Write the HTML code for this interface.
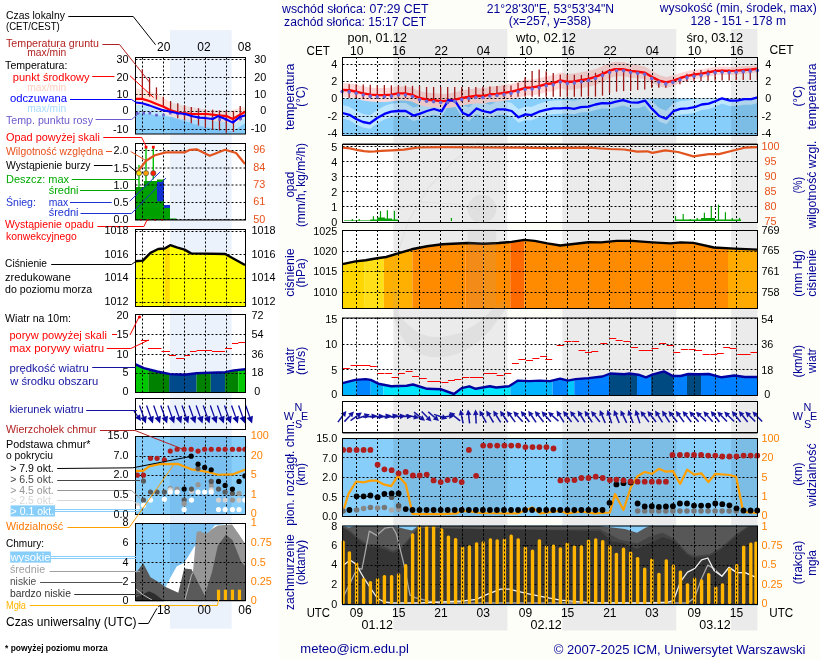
<!DOCTYPE html>
<html><head><meta charset="utf-8"><style>
html,body{margin:0;padding:0;background:#fff;overflow:hidden}
svg{display:block;-webkit-font-smoothing:antialiased;will-change:transform}
text{font-family:"Liberation Sans", sans-serif}
</style></head><body>
<svg width="820" height="660" viewBox="0 0 820 660">
<rect x="0" y="0" width="820" height="660" fill="#ffffff"/>
<rect x="279.4" y="0" width="541" height="660" fill="#fefef9"/>
<rect x="393.4" y="29" width="114" height="601.5" fill="#ebebeb"/>
<rect x="562.3" y="29" width="114" height="601.5" fill="#ebebeb"/>
<rect x="731.1" y="29" width="26.4" height="601.5" fill="#ebebeb"/>
<rect x="170" y="30.2" width="61.6" height="598.5" fill="#ebf2fc"/>
<rect x="342.5" y="57" width="415" height="78" fill="#ffffff"/>
<rect x="342.5" y="98.5" width="415" height="36.5" fill="#87cefa"/>
<polygon points="342.5,105 349.4,106.8 356.2,111 363,114 369.9,115.3 377.6,109.8 384.4,105.9 391.2,103.7 398,103 405.7,103 413.4,107.6 419.4,105.9 427,103 434,101 441.6,103.3 448.4,98.5 455.2,98.5 462.9,105 468.9,107.6 476.6,100.5 482.7,103 490.4,104.7 497.2,101.3 504.9,101.3 511.7,103 518.5,109.3 525.4,106.4 531.3,107.1 539,103.7 546.7,101.6 553.5,100.4 560.4,100.3 567.2,99.9 574,100.8 580.9,99.1 588.5,98.6 595.4,98.5 602.2,98.5 609.9,98.5 615,98.5 623,98.5 630.9,98.5 638,98.5 645,98.5 652.1,100.9 659.2,108 666.3,110.7 673.4,103.2 680.4,100.9 687.5,100.4 694.6,99.2 701.6,98.5 708.7,98.5 715.8,98.5 722,98.5 730,98.5 737,98.5 744.1,98.5 751.2,98.5 757.5,98.5 757.5,102.9 751.2,104.7 744.1,104.7 737,106.1 730,106.1 722,103.8 715.8,106.5 708.7,109.1 701.6,110 694.6,112.7 687.5,113.9 680.4,114.4 673.4,116.7 666.3,124.2 659.2,121.5 652.1,114.4 645,106.1 638,108.2 630.9,107.9 623,105.6 615,107.4 609.9,108.8 602.2,108.6 595.4,110 588.5,112.1 580.9,112.6 574,114.3 567.2,113.4 560.4,113.8 553.5,113.9 546.7,115.1 539,117.2 531.3,120.6 525.4,119.9 518.5,122.8 511.7,116.5 504.9,114.8 497.2,114.8 490.4,118.2 482.7,116.5 476.6,114 468.9,121.1 462.9,118.5 455.2,106.6 448.4,105.7 441.6,116.8 434,114.5 427,116.5 419.4,119.4 413.4,121.1 405.7,116.5 398,116.5 391.2,117.2 384.4,119.4 377.6,123.3 369.9,128.8 363,127.5 356.2,124.5 349.4,120.3 342.5,118.5" fill="#bfe6ff"/>
<polygon points="342.5,83 349.4,83.3 356.2,84.7 363,86.4 370.7,87.6 377.6,88.1 384.4,88.1 391.2,87.6 398,86.4 404.9,86.4 411.7,87.6 419.4,91 427,92.63 434,93.06 441.6,93.88 448.4,93.52 455.2,92.35 462,90.58 469.8,89.3 476.6,88.23 483.5,88.36 490.4,86.6 497.2,86.13 504,85.06 511.7,83.78 518.5,82.02 525.4,79.8 532.2,79.4 539,78.2 546.7,76 553.5,75.2 560.4,72.3 567.2,74 574,73.5 580.9,72.3 588.5,70.9 595.4,68.9 602.2,66.19 609.9,63.1 615,61.8 623,62.02 630.9,64.14 638,65.32 645,66.5 652.1,71.16 659.2,74.88 666.3,76.89 673.4,75.3 680.4,72.91 687.5,71.03 694.6,69.84 701.6,69.13 708.7,67.95 715.8,66.68 722.9,66.5 729.9,66.92 737,66.75 744.1,66.27 751.2,65.9 757.5,65.3 757.5,72.3 751.2,73.1 744.1,73.73 737,74.45 729.9,74.88 722.9,74.7 715.8,75.12 708.7,76.65 701.6,78.07 694.6,79.16 687.5,80.78 680.4,83.09 673.4,85.9 666.3,87.91 659.2,86.32 652.1,83.04 645,78.9 638,78.28 630.9,77.66 623,76.18 615,76.6 609.9,78.3 602.2,82.01 595.4,84.9 588.5,86.9 580.9,88.3 574,89.5 567.2,90 560.4,88.3 553.5,91.2 546.7,92 539,94.2 532.2,95.4 525.4,95.8 518.5,97.98 511.7,99.62 504,100.74 497.2,101.67 490.4,102 483.5,103.64 476.6,103.37 469.8,104.3 462,105.42 455.2,107.05 448.4,108.08 441.6,108.32 434,107.34 427,106.77 419.4,105 411.7,101.6 404.9,100.4 398,100.4 391.2,101.6 384.4,102.1 377.6,102.1 370.7,101.6 363,100.4 356.2,98.7 349.4,97.3 342.5,97" fill="#ffd9d9"/>
<rect x="393.4" y="57" width="114" height="78" fill="#000" fill-opacity="0.078"/>
<rect x="562.3" y="57" width="114" height="78" fill="#000" fill-opacity="0.078"/>
<rect x="731.1" y="57" width="26.4" height="78" fill="#000" fill-opacity="0.078"/>
<line x1="356.5" y1="57" x2="356.5" y2="135" stroke="#000" stroke-width="1" stroke-dasharray="2,2"/>
<line x1="377.5" y1="57" x2="377.5" y2="135" stroke="#000" stroke-width="1" stroke-dasharray="2,2"/>
<line x1="398.5" y1="57" x2="398.5" y2="135" stroke="#000" stroke-width="1" stroke-dasharray="2,2"/>
<line x1="419.5" y1="57" x2="419.5" y2="135" stroke="#000" stroke-width="1" stroke-dasharray="2,2"/>
<line x1="440.5" y1="57" x2="440.5" y2="135" stroke="#000" stroke-width="1" stroke-dasharray="2,2"/>
<line x1="462.5" y1="57" x2="462.5" y2="135" stroke="#000" stroke-width="1" stroke-dasharray="2,2"/>
<line x1="483.5" y1="57" x2="483.5" y2="135" stroke="#000" stroke-width="1" stroke-dasharray="2,2"/>
<line x1="504.5" y1="57" x2="504.5" y2="135" stroke="#000" stroke-width="1" stroke-dasharray="2,2"/>
<line x1="525.5" y1="57" x2="525.5" y2="135" stroke="#000" stroke-width="1" stroke-dasharray="2,2"/>
<line x1="546.5" y1="57" x2="546.5" y2="135" stroke="#000" stroke-width="1" stroke-dasharray="2,2"/>
<line x1="567.5" y1="57" x2="567.5" y2="135" stroke="#000" stroke-width="1" stroke-dasharray="2,2"/>
<line x1="588.5" y1="57" x2="588.5" y2="135" stroke="#000" stroke-width="1" stroke-dasharray="2,2"/>
<line x1="609.5" y1="57" x2="609.5" y2="135" stroke="#000" stroke-width="1" stroke-dasharray="2,2"/>
<line x1="630.5" y1="57" x2="630.5" y2="135" stroke="#000" stroke-width="1" stroke-dasharray="2,2"/>
<line x1="652.5" y1="57" x2="652.5" y2="135" stroke="#000" stroke-width="1" stroke-dasharray="2,2"/>
<line x1="673.5" y1="57" x2="673.5" y2="135" stroke="#000" stroke-width="1" stroke-dasharray="2,2"/>
<line x1="694.5" y1="57" x2="694.5" y2="135" stroke="#000" stroke-width="1" stroke-dasharray="2,2"/>
<line x1="715.5" y1="57" x2="715.5" y2="135" stroke="#000" stroke-width="1" stroke-dasharray="2,2"/>
<line x1="736.5" y1="57" x2="736.5" y2="135" stroke="#000" stroke-width="1" stroke-dasharray="2,2"/>
<line x1="342.5" y1="64.5" x2="757.5" y2="64.5" stroke="#000" stroke-width="1" stroke-dasharray="2,2"/>
<line x1="342.5" y1="81.5" x2="757.5" y2="81.5" stroke="#000" stroke-width="1" stroke-dasharray="2,2"/>
<line x1="342.5" y1="98.5" x2="757.5" y2="98.5" stroke="#000" stroke-width="1" stroke-dasharray="2,2"/>
<line x1="342.5" y1="116.5" x2="757.5" y2="116.5" stroke="#000" stroke-width="1" stroke-dasharray="2,2"/>
<line x1="342.5" y1="133.5" x2="757.5" y2="133.5" stroke="#000" stroke-width="1" stroke-dasharray="2,2"/>
<line x1="349.16" y1="84.18" x2="349.16" y2="98" stroke="#a01818" stroke-width="1.3"/>
<line x1="356.2" y1="84.36" x2="356.2" y2="98" stroke="#a01818" stroke-width="1.3"/>
<line x1="363.24" y1="84.54" x2="363.24" y2="98" stroke="#a01818" stroke-width="1.3"/>
<line x1="370.27" y1="84.72" x2="370.27" y2="98" stroke="#a01818" stroke-width="1.3"/>
<line x1="377.31" y1="84.91" x2="377.31" y2="98" stroke="#a01818" stroke-width="1.3"/>
<line x1="384.35" y1="85.09" x2="384.35" y2="98" stroke="#a01818" stroke-width="1.3"/>
<line x1="391.38" y1="85.27" x2="391.38" y2="98" stroke="#a01818" stroke-width="1.3"/>
<line x1="398.42" y1="85.45" x2="398.42" y2="98" stroke="#a01818" stroke-width="1.3"/>
<line x1="405.46" y1="85.63" x2="405.46" y2="98" stroke="#a01818" stroke-width="1.3"/>
<line x1="412.5" y1="85.81" x2="412.5" y2="98" stroke="#a01818" stroke-width="1.3"/>
<line x1="419.53" y1="85.99" x2="419.53" y2="98" stroke="#a01818" stroke-width="1.3"/>
<line x1="426.57" y1="86.94" x2="426.57" y2="102.13" stroke="#a01818" stroke-width="1.3"/>
<line x1="433.61" y1="87" x2="433.61" y2="102.34" stroke="#a01818" stroke-width="1.3"/>
<line x1="440.64" y1="87" x2="440.64" y2="102.27" stroke="#a01818" stroke-width="1.3"/>
<line x1="447.68" y1="87" x2="447.68" y2="102.21" stroke="#a01818" stroke-width="1.3"/>
<line x1="454.72" y1="87" x2="454.72" y2="102.14" stroke="#a01818" stroke-width="1.3"/>
<line x1="461.75" y1="87" x2="461.75" y2="102.08" stroke="#a01818" stroke-width="1.3"/>
<line x1="468.79" y1="87" x2="468.79" y2="102.01" stroke="#a01818" stroke-width="1.3"/>
<line x1="475.83" y1="87" x2="475.83" y2="97.84" stroke="#a01818" stroke-width="1.3"/>
<line x1="482.87" y1="86.72" x2="482.87" y2="96.98" stroke="#a01818" stroke-width="1.3"/>
<line x1="489.9" y1="86.39" x2="489.9" y2="96.96" stroke="#a01818" stroke-width="1.3"/>
<line x1="496.94" y1="86.06" x2="496.94" y2="96.94" stroke="#a01818" stroke-width="1.3"/>
<line x1="503.98" y1="85.73" x2="503.98" y2="96.91" stroke="#a01818" stroke-width="1.3"/>
<line x1="511.01" y1="85.39" x2="511.01" y2="96.89" stroke="#a01818" stroke-width="1.3"/>
<line x1="518.05" y1="82.74" x2="518.05" y2="96.87" stroke="#a01818" stroke-width="1.3"/>
<line x1="525.09" y1="77.34" x2="525.09" y2="96.84" stroke="#a01818" stroke-width="1.3"/>
<line x1="532.12" y1="70.97" x2="532.12" y2="96.82" stroke="#a01818" stroke-width="1.3"/>
<line x1="539.16" y1="69.54" x2="539.16" y2="96.8" stroke="#a01818" stroke-width="1.3"/>
<line x1="546.2" y1="71.25" x2="546.2" y2="96.77" stroke="#a01818" stroke-width="1.3"/>
<line x1="553.24" y1="72.96" x2="553.24" y2="96.75" stroke="#a01818" stroke-width="1.3"/>
<line x1="560.27" y1="74.6" x2="560.27" y2="96.73" stroke="#a01818" stroke-width="1.3"/>
<line x1="567.31" y1="74.7" x2="567.31" y2="96.71" stroke="#a01818" stroke-width="1.3"/>
<line x1="574.35" y1="74.79" x2="574.35" y2="96.68" stroke="#a01818" stroke-width="1.3"/>
<line x1="581.38" y1="74.89" x2="581.38" y2="96.66" stroke="#a01818" stroke-width="1.3"/>
<line x1="588.42" y1="74.98" x2="588.42" y2="96.64" stroke="#a01818" stroke-width="1.3"/>
<line x1="595.46" y1="72.82" x2="595.46" y2="96.61" stroke="#a01818" stroke-width="1.3"/>
<line x1="602.5" y1="70.79" x2="602.5" y2="95.64" stroke="#a01818" stroke-width="1.3"/>
<line x1="609.53" y1="70.21" x2="609.53" y2="92.95" stroke="#a01818" stroke-width="1.3"/>
<line x1="616.57" y1="70.49" x2="616.57" y2="91.65" stroke="#a01818" stroke-width="1.3"/>
<line x1="623.61" y1="71.25" x2="623.61" y2="91.12" stroke="#a01818" stroke-width="1.3"/>
<line x1="630.64" y1="72.01" x2="630.64" y2="90.59" stroke="#a01818" stroke-width="1.3"/>
<line x1="637.68" y1="72.78" x2="637.68" y2="90.05" stroke="#a01818" stroke-width="1.3"/>
<line x1="644.72" y1="73.57" x2="644.72" y2="89.52" stroke="#a01818" stroke-width="1.3"/>
<line x1="651.75" y1="77.85" x2="651.75" y2="87.76" stroke="#a01818" stroke-width="1.3"/>
<line x1="658.79" y1="80.13" x2="658.79" y2="87.7" stroke="#a01818" stroke-width="1.3"/>
<line x1="665.83" y1="82.35" x2="665.83" y2="87.7" stroke="#a01818" stroke-width="1.3"/>
<line x1="672.87" y1="81.52" x2="672.87" y2="84.27" stroke="#a01818" stroke-width="1.3"/>
<line x1="679.9" y1="77.61" x2="679.9" y2="84.2" stroke="#a01818" stroke-width="1.3"/>
<line x1="686.94" y1="73.63" x2="686.94" y2="81.52" stroke="#a01818" stroke-width="1.3"/>
<line x1="693.98" y1="71.81" x2="693.98" y2="81.25" stroke="#a01818" stroke-width="1.3"/>
<line x1="701.01" y1="70" x2="701.01" y2="81" stroke="#a01818" stroke-width="1.3"/>
<line x1="708.05" y1="69.85" x2="708.05" y2="80.85" stroke="#a01818" stroke-width="1.3"/>
<line x1="715.09" y1="69.7" x2="715.09" y2="80.7" stroke="#a01818" stroke-width="1.3"/>
<line x1="722.12" y1="69.55" x2="722.12" y2="80.55" stroke="#a01818" stroke-width="1.3"/>
<line x1="729.16" y1="69.4" x2="729.16" y2="80.4" stroke="#a01818" stroke-width="1.3"/>
<line x1="736.2" y1="69.25" x2="736.2" y2="80.25" stroke="#a01818" stroke-width="1.3"/>
<line x1="743.23" y1="69.09" x2="743.23" y2="80.09" stroke="#a01818" stroke-width="1.3"/>
<line x1="750.27" y1="68.94" x2="750.27" y2="79.94" stroke="#a01818" stroke-width="1.3"/>
<line x1="757.31" y1="68.8" x2="757.31" y2="79.8" stroke="#a01818" stroke-width="1.3"/>
<polyline points="342.5,90 349.4,90.3 356.2,91.7 363,93.4 370.7,94.6 377.6,95.1 384.4,95.1 391.2,94.6 398,93.4 404.9,93.4 411.7,94.6 419.4,98 427,99.7 434,100.2 441.6,101.1 448.4,100.8 455.2,99.7 462,98 469.8,96.8 476.6,95.8 483.5,96 490.4,94.3 497.2,93.9 504,92.9 511.7,91.7 518.5,90 525.4,87.8 532.2,87.4 539,86.2 546.7,84 553.5,83.2 560.4,80.3 567.2,82 574,81.5 580.9,80.3 588.5,78.9 595.4,76.9 602.2,74.1 609.9,70.7 615,69.2 623,69.1 630.9,70.9 638,71.8 645,72.7 652.1,77.1 659.2,80.6 666.3,82.4 673.4,80.6 680.4,78 687.5,75.9 694.6,74.5 701.6,73.6 708.7,72.3 715.8,70.9 722.9,70.6 729.9,70.9 737,70.6 744.1,70 751.2,69.5 757.5,68.8" fill="none" stroke="#ff0000" stroke-width="2.4" stroke-linejoin="round"/>
<polyline points="342.5,113 349.4,114.8 356.2,119 363,122 369.9,123.3 377.6,117.8 384.4,113.9 391.2,111.7 398,111 405.7,111 413.4,115.6 419.4,113.9 427,111 434,109 441.6,111.3 448.4,100.2 455.2,101.1 462.9,113 468.9,115.6 476.6,108.5 482.7,111 490.4,112.7 497.2,109.3 504.9,109.3 511.7,111 518.5,117.3 525.4,114.4 531.3,115.1 539,111.7 546.7,109.6 553.5,108.4 560.4,108.3 567.2,107.9 574,108.8 580.9,107.1 588.5,106.6 595.4,104.5 602.2,103.1 609.9,103.3 615,101.9 623,100.1 630.9,102.4 638,102.7 645,100.6 652.1,108.9 659.2,116 666.3,118.7 673.4,111.2 680.4,108.9 687.5,108.4 694.6,107.2 701.6,104.5 708.7,103.6 715.8,101 722,98.3 730,100.6 737,100.6 744.1,99.2 751.2,99.2 757.5,97.4" fill="none" stroke="#0000ff" stroke-width="2.3" stroke-linejoin="round"/>
<circle cx="342.13" cy="91.6" r="1.8" fill="#6a6ad8"/>
<circle cx="349.16" cy="91.89" r="1.8" fill="#6a6ad8"/>
<circle cx="356.2" cy="93.3" r="1.8" fill="#6a6ad8"/>
<circle cx="363.24" cy="95.04" r="1.8" fill="#6a6ad8"/>
<circle cx="370.27" cy="96.13" r="1.8" fill="#6a6ad8"/>
<circle cx="377.31" cy="96.68" r="1.8" fill="#6a6ad8"/>
<circle cx="384.35" cy="96.7" r="1.8" fill="#6a6ad8"/>
<circle cx="391.38" cy="96.17" r="1.8" fill="#6a6ad8"/>
<circle cx="398.42" cy="95" r="1.8" fill="#6a6ad8"/>
<circle cx="405.46" cy="95.1" r="1.8" fill="#6a6ad8"/>
<circle cx="412.5" cy="96.55" r="1.8" fill="#6a6ad8"/>
<circle cx="419.53" cy="99.63" r="1.8" fill="#6a6ad8"/>
<circle cx="426.57" cy="101.2" r="1.8" fill="#6a6ad8"/>
<circle cx="433.61" cy="101.77" r="1.8" fill="#6a6ad8"/>
<circle cx="440.64" cy="102.59" r="1.8" fill="#6a6ad8"/>
<circle cx="447.68" cy="102.43" r="1.8" fill="#6a6ad8"/>
<circle cx="454.72" cy="101.38" r="1.8" fill="#6a6ad8"/>
<circle cx="461.75" cy="99.66" r="1.8" fill="#6a6ad8"/>
<circle cx="468.79" cy="98.56" r="1.8" fill="#6a6ad8"/>
<circle cx="475.83" cy="97.51" r="1.8" fill="#6a6ad8"/>
<circle cx="482.87" cy="97.58" r="1.8" fill="#6a6ad8"/>
<circle cx="489.9" cy="96.02" r="1.8" fill="#6a6ad8"/>
<circle cx="496.94" cy="95.52" r="1.8" fill="#6a6ad8"/>
<circle cx="503.98" cy="94.5" r="1.8" fill="#6a6ad8"/>
<circle cx="511.01" cy="93.41" r="1.8" fill="#6a6ad8"/>
<circle cx="518.05" cy="91.71" r="1.8" fill="#6a6ad8"/>
<circle cx="525.09" cy="89.5" r="1.8" fill="#6a6ad8"/>
<circle cx="532.12" cy="89" r="1.8" fill="#6a6ad8"/>
<circle cx="539.16" cy="87.75" r="1.8" fill="#6a6ad8"/>
<circle cx="546.2" cy="85.74" r="1.8" fill="#6a6ad8"/>
<circle cx="553.24" cy="84.83" r="1.8" fill="#6a6ad8"/>
<circle cx="560.27" cy="81.95" r="1.8" fill="#6a6ad8"/>
<circle cx="567.31" cy="83.59" r="1.8" fill="#6a6ad8"/>
<circle cx="574.35" cy="83.04" r="1.8" fill="#6a6ad8"/>
<circle cx="581.38" cy="81.81" r="1.8" fill="#6a6ad8"/>
<circle cx="588.42" cy="80.51" r="1.8" fill="#6a6ad8"/>
<circle cx="595.46" cy="78.48" r="1.8" fill="#6a6ad8"/>
<circle cx="602.5" cy="75.57" r="1.8" fill="#6a6ad8"/>
<circle cx="609.53" cy="72.46" r="1.8" fill="#6a6ad8"/>
<circle cx="616.57" cy="70.78" r="1.8" fill="#6a6ad8"/>
<circle cx="623.61" cy="70.84" r="1.8" fill="#6a6ad8"/>
<circle cx="630.64" cy="72.44" r="1.8" fill="#6a6ad8"/>
<circle cx="637.68" cy="73.36" r="1.8" fill="#6a6ad8"/>
<circle cx="644.72" cy="74.26" r="1.8" fill="#6a6ad8"/>
<circle cx="651.75" cy="78.49" r="1.8" fill="#6a6ad8"/>
<circle cx="658.79" cy="82" r="1.8" fill="#6a6ad8"/>
<circle cx="665.83" cy="83.88" r="1.8" fill="#6a6ad8"/>
<circle cx="672.87" cy="82.34" r="1.8" fill="#6a6ad8"/>
<circle cx="679.9" cy="79.78" r="1.8" fill="#6a6ad8"/>
<circle cx="686.94" cy="77.67" r="1.8" fill="#6a6ad8"/>
<circle cx="693.98" cy="76.22" r="1.8" fill="#6a6ad8"/>
<circle cx="701.01" cy="75.28" r="1.8" fill="#6a6ad8"/>
<circle cx="708.05" cy="74.02" r="1.8" fill="#6a6ad8"/>
<circle cx="715.09" cy="72.64" r="1.8" fill="#6a6ad8"/>
<circle cx="722.12" cy="72.23" r="1.8" fill="#6a6ad8"/>
<circle cx="729.16" cy="72.47" r="1.8" fill="#6a6ad8"/>
<circle cx="736.2" cy="72.23" r="1.8" fill="#6a6ad8"/>
<circle cx="743.23" cy="71.67" r="1.8" fill="#6a6ad8"/>
<circle cx="750.27" cy="71.17" r="1.8" fill="#6a6ad8"/>
<circle cx="757.31" cy="70.42" r="1.8" fill="#6a6ad8"/>
<rect x="342.5" y="57.5" width="415" height="78" fill="none" stroke="#000" stroke-width="1"/>
<rect x="342.5" y="144" width="415" height="78" fill="#ffffff"/>
<rect x="393.4" y="144" width="114" height="78" fill="#000" fill-opacity="0.078"/>
<rect x="562.3" y="144" width="114" height="78" fill="#000" fill-opacity="0.078"/>
<rect x="731.1" y="144" width="26.4" height="78" fill="#000" fill-opacity="0.078"/>
<line x1="356.5" y1="144" x2="356.5" y2="222" stroke="#000" stroke-width="1" stroke-dasharray="2,2"/>
<line x1="377.5" y1="144" x2="377.5" y2="222" stroke="#000" stroke-width="1" stroke-dasharray="2,2"/>
<line x1="398.5" y1="144" x2="398.5" y2="222" stroke="#000" stroke-width="1" stroke-dasharray="2,2"/>
<line x1="419.5" y1="144" x2="419.5" y2="222" stroke="#000" stroke-width="1" stroke-dasharray="2,2"/>
<line x1="440.5" y1="144" x2="440.5" y2="222" stroke="#000" stroke-width="1" stroke-dasharray="2,2"/>
<line x1="462.5" y1="144" x2="462.5" y2="222" stroke="#000" stroke-width="1" stroke-dasharray="2,2"/>
<line x1="483.5" y1="144" x2="483.5" y2="222" stroke="#000" stroke-width="1" stroke-dasharray="2,2"/>
<line x1="504.5" y1="144" x2="504.5" y2="222" stroke="#000" stroke-width="1" stroke-dasharray="2,2"/>
<line x1="525.5" y1="144" x2="525.5" y2="222" stroke="#000" stroke-width="1" stroke-dasharray="2,2"/>
<line x1="546.5" y1="144" x2="546.5" y2="222" stroke="#000" stroke-width="1" stroke-dasharray="2,2"/>
<line x1="567.5" y1="144" x2="567.5" y2="222" stroke="#000" stroke-width="1" stroke-dasharray="2,2"/>
<line x1="588.5" y1="144" x2="588.5" y2="222" stroke="#000" stroke-width="1" stroke-dasharray="2,2"/>
<line x1="609.5" y1="144" x2="609.5" y2="222" stroke="#000" stroke-width="1" stroke-dasharray="2,2"/>
<line x1="630.5" y1="144" x2="630.5" y2="222" stroke="#000" stroke-width="1" stroke-dasharray="2,2"/>
<line x1="652.5" y1="144" x2="652.5" y2="222" stroke="#000" stroke-width="1" stroke-dasharray="2,2"/>
<line x1="673.5" y1="144" x2="673.5" y2="222" stroke="#000" stroke-width="1" stroke-dasharray="2,2"/>
<line x1="694.5" y1="144" x2="694.5" y2="222" stroke="#000" stroke-width="1" stroke-dasharray="2,2"/>
<line x1="715.5" y1="144" x2="715.5" y2="222" stroke="#000" stroke-width="1" stroke-dasharray="2,2"/>
<line x1="736.5" y1="144" x2="736.5" y2="222" stroke="#000" stroke-width="1" stroke-dasharray="2,2"/>
<line x1="342.5" y1="146.5" x2="757.5" y2="146.5" stroke="#000" stroke-width="1" stroke-dasharray="2,2"/>
<line x1="342.5" y1="161.5" x2="757.5" y2="161.5" stroke="#000" stroke-width="1" stroke-dasharray="2,2"/>
<line x1="342.5" y1="176.5" x2="757.5" y2="176.5" stroke="#000" stroke-width="1" stroke-dasharray="2,2"/>
<line x1="342.5" y1="191.5" x2="757.5" y2="191.5" stroke="#000" stroke-width="1" stroke-dasharray="2,2"/>
<line x1="342.5" y1="206.5" x2="757.5" y2="206.5" stroke="#000" stroke-width="1" stroke-dasharray="2,2"/>
<rect x="370.2" y="219.5" width="27.8" height="1.5" fill="#00a000"/>
<rect x="377.2" y="217.5" width="7.7" height="3.5" fill="#00a000"/>
<rect x="384.9" y="218.5" width="7" height="2.5" fill="#00a000"/>
<rect x="344" y="220" width="50" height="1" fill="#00a000" fill-opacity="0.6"/>
<rect x="675" y="219.5" width="66" height="1.5" fill="#00a000"/>
<rect x="701" y="218" width="14" height="3" fill="#00a000"/>
<line x1="352.3" y1="219" x2="352.3" y2="221" stroke="#00a000" stroke-width="1.2"/>
<line x1="359.2" y1="219" x2="359.2" y2="221" stroke="#00a000" stroke-width="1.2"/>
<line x1="373.4" y1="216.2" x2="373.4" y2="221" stroke="#00a000" stroke-width="1.2"/>
<line x1="380.5" y1="211.1" x2="380.5" y2="221" stroke="#00a000" stroke-width="1.2"/>
<line x1="387.4" y1="210.2" x2="387.4" y2="221" stroke="#00a000" stroke-width="1.2"/>
<line x1="394.4" y1="211.1" x2="394.4" y2="221" stroke="#00a000" stroke-width="1.2"/>
<line x1="451.4" y1="217.9" x2="451.4" y2="221" stroke="#00a000" stroke-width="1.2"/>
<line x1="675.5" y1="216.1" x2="675.5" y2="221" stroke="#00a000" stroke-width="1.2"/>
<line x1="683.2" y1="214" x2="683.2" y2="221" stroke="#00a000" stroke-width="1.2"/>
<line x1="690.3" y1="219" x2="690.3" y2="221" stroke="#00a000" stroke-width="1.2"/>
<line x1="697.2" y1="217.9" x2="697.2" y2="221" stroke="#00a000" stroke-width="1.2"/>
<line x1="704.4" y1="212.8" x2="704.4" y2="221" stroke="#00a000" stroke-width="1.2"/>
<line x1="711.3" y1="206.6" x2="711.3" y2="221" stroke="#00a000" stroke-width="1.2"/>
<line x1="718.5" y1="204.6" x2="718.5" y2="221" stroke="#00a000" stroke-width="1.2"/>
<line x1="725.4" y1="212.3" x2="725.4" y2="221" stroke="#00a000" stroke-width="1.2"/>
<line x1="732.3" y1="217.9" x2="732.3" y2="221" stroke="#00a000" stroke-width="1.2"/>
<line x1="739.5" y1="217.9" x2="739.5" y2="221" stroke="#00a000" stroke-width="1.2"/>
<polyline points="342.5,147.7 350,148.4 358,150.2 364,151.2 369.4,151.6 375,151.4 381,150.9 392,150.4 404,149.6 412,148.4 419.4,147.5 442.4,147.2 483.4,147.5 519.3,147.7 550,148.2 588.4,147.7 608.9,149 624.3,149.5 637.1,151.6 647.3,151.3 652.4,152.9 665.2,150.3 678,152 693.4,156.4 708.8,154.1 719,154.1 734.4,150.3 744.6,147.7 757.5,147.2" fill="none" stroke="#e2541e" stroke-width="2.2" stroke-linejoin="round"/>
<line x1="342.5" y1="143.5" x2="757.5" y2="143.5" stroke="#888" stroke-width="1"/>
<rect x="342.5" y="144.5" width="415" height="78" fill="none" stroke="#000" stroke-width="1"/>
<rect x="342.5" y="230" width="415" height="78" fill="#ffffff"/>
<rect x="393.4" y="230" width="114" height="78" fill="#000" fill-opacity="0.078"/>
<rect x="562.3" y="230" width="114" height="78" fill="#000" fill-opacity="0.078"/>
<rect x="731.1" y="230" width="26.4" height="78" fill="#000" fill-opacity="0.078"/>
<clipPath id="prclip"><polygon points="342.5,264.2 355.4,261.4 365.6,260.3 377.1,258.3 386.1,257 398.9,253.2 411.7,249.3 427.1,246.3 442.4,244.2 468,243 483.4,243.7 498.8,243 511.6,241.9 524.4,239.9 534.6,240.9 547.4,243.4 560.2,245.5 575.6,243.7 588.4,242.2 601.2,242.4 616.6,240.9 632,240.9 652.4,242.4 670.4,243.4 680.6,242.4 693.4,242.9 713.9,247.5 734.4,248.6 757.5,249.6 757.5,308 342.5,308"/></clipPath>
<g clip-path="url(#prclip)">
<rect x="342.5" y="230" width="21.6" height="78" fill="#ffd700"/>
<rect x="364.1" y="230" width="19.8" height="78" fill="#ffdf18"/>
<rect x="383.9" y="230" width="28.5" height="78" fill="#ffb000"/>
<rect x="412.4" y="230" width="53.1" height="78" fill="#ff8c00"/>
<rect x="465.5" y="230" width="17.9" height="78" fill="#ff8800"/>
<rect x="483.4" y="230" width="26.9" height="78" fill="#ff8c00"/>
<rect x="510.3" y="230" width="14.1" height="78" fill="#ff6a00"/>
<rect x="524.4" y="230" width="203.6" height="78" fill="#ff8c00"/>
<rect x="728" y="230" width="29.5" height="78" fill="#ffaa00"/>
</g>
<line x1="356.5" y1="230" x2="356.5" y2="308" stroke="#000" stroke-width="1" stroke-dasharray="2,2"/>
<line x1="377.5" y1="230" x2="377.5" y2="308" stroke="#000" stroke-width="1" stroke-dasharray="2,2"/>
<line x1="398.5" y1="230" x2="398.5" y2="308" stroke="#000" stroke-width="1" stroke-dasharray="2,2"/>
<line x1="419.5" y1="230" x2="419.5" y2="308" stroke="#000" stroke-width="1" stroke-dasharray="2,2"/>
<line x1="440.5" y1="230" x2="440.5" y2="308" stroke="#000" stroke-width="1" stroke-dasharray="2,2"/>
<line x1="462.5" y1="230" x2="462.5" y2="308" stroke="#000" stroke-width="1" stroke-dasharray="2,2"/>
<line x1="483.5" y1="230" x2="483.5" y2="308" stroke="#000" stroke-width="1" stroke-dasharray="2,2"/>
<line x1="504.5" y1="230" x2="504.5" y2="308" stroke="#000" stroke-width="1" stroke-dasharray="2,2"/>
<line x1="525.5" y1="230" x2="525.5" y2="308" stroke="#000" stroke-width="1" stroke-dasharray="2,2"/>
<line x1="546.5" y1="230" x2="546.5" y2="308" stroke="#000" stroke-width="1" stroke-dasharray="2,2"/>
<line x1="567.5" y1="230" x2="567.5" y2="308" stroke="#000" stroke-width="1" stroke-dasharray="2,2"/>
<line x1="588.5" y1="230" x2="588.5" y2="308" stroke="#000" stroke-width="1" stroke-dasharray="2,2"/>
<line x1="609.5" y1="230" x2="609.5" y2="308" stroke="#000" stroke-width="1" stroke-dasharray="2,2"/>
<line x1="630.5" y1="230" x2="630.5" y2="308" stroke="#000" stroke-width="1" stroke-dasharray="2,2"/>
<line x1="652.5" y1="230" x2="652.5" y2="308" stroke="#000" stroke-width="1" stroke-dasharray="2,2"/>
<line x1="673.5" y1="230" x2="673.5" y2="308" stroke="#000" stroke-width="1" stroke-dasharray="2,2"/>
<line x1="694.5" y1="230" x2="694.5" y2="308" stroke="#000" stroke-width="1" stroke-dasharray="2,2"/>
<line x1="715.5" y1="230" x2="715.5" y2="308" stroke="#000" stroke-width="1" stroke-dasharray="2,2"/>
<line x1="736.5" y1="230" x2="736.5" y2="308" stroke="#000" stroke-width="1" stroke-dasharray="2,2"/>
<line x1="342.5" y1="251.5" x2="757.5" y2="251.5" stroke="#000" stroke-width="1" stroke-dasharray="2,2"/>
<line x1="342.5" y1="271.5" x2="757.5" y2="271.5" stroke="#000" stroke-width="1" stroke-dasharray="2,2"/>
<line x1="342.5" y1="292.5" x2="757.5" y2="292.5" stroke="#000" stroke-width="1" stroke-dasharray="2,2"/>
<polyline points="342.5,264.2 355.4,261.4 365.6,260.3 377.1,258.3 386.1,257 398.9,253.2 411.7,249.3 427.1,246.3 442.4,244.2 468,243 483.4,243.7 498.8,243 511.6,241.9 524.4,239.9 534.6,240.9 547.4,243.4 560.2,245.5 575.6,243.7 588.4,242.2 601.2,242.4 616.6,240.9 632,240.9 652.4,242.4 670.4,243.4 680.6,242.4 693.4,242.9 713.9,247.5 734.4,248.6 757.5,249.6" fill="none" stroke="#000" stroke-width="2.4" stroke-linejoin="round"/>
<rect x="342.5" y="230.5" width="415" height="78" fill="none" stroke="#000" stroke-width="1"/>
<rect x="342.5" y="317.5" width="415" height="77.5" fill="#ffffff"/>
<rect x="393.4" y="317.5" width="114" height="77.5" fill="#000" fill-opacity="0.078"/>
<rect x="562.3" y="317.5" width="114" height="77.5" fill="#000" fill-opacity="0.078"/>
<rect x="731.1" y="317.5" width="26.4" height="77.5" fill="#000" fill-opacity="0.078"/>
<clipPath id="wclip"><polygon points="342.5,383.2 355.4,379.9 365.6,379.1 370.7,379.9 378.4,383.7 391.2,386.3 406.6,385.8 413,384.5 427.1,388.8 441.2,389.3 454,394 461.6,388.1 469.3,386.3 475.7,388.8 489.8,386.3 496.2,387.5 509,386.3 518,380.6 529.5,381.1 539.7,380.6 550,381.1 560.2,378.6 567.9,380.6 575.6,379.1 588.4,378.1 602.5,376.5 610.2,373.5 624.3,374.2 629.4,373.5 638.3,374.7 646,377.3 652.4,374.7 664,371.4 672.9,376 680.6,376 688.3,374 698.5,374.2 708.8,374 721.6,377.3 734.4,375.5 744.6,377 757.5,377 757.5,395 342.5,395"/></clipPath>
<g clip-path="url(#wclip)">
<rect x="342.5" y="317.5" width="14.1" height="77.5" fill="#00b4ff"/>
<rect x="356.6" y="317.5" width="14.1" height="77.5" fill="#0084ff"/>
<rect x="370.7" y="317.5" width="12.8" height="77.5" fill="#00b4ff"/>
<rect x="383.5" y="317.5" width="126.8" height="77.5" fill="#00e6ff"/>
<rect x="510.3" y="317.5" width="42.3" height="77.5" fill="#00b4ff"/>
<rect x="552.6" y="317.5" width="15.4" height="77.5" fill="#0084ff"/>
<rect x="568" y="317.5" width="6.3" height="77.5" fill="#00c8ff"/>
<rect x="574.3" y="317.5" width="34.7" height="77.5" fill="#0080ff"/>
<rect x="609" y="317.5" width="28" height="77.5" fill="#004a82"/>
<rect x="637" y="317.5" width="14" height="77.5" fill="#0080ff"/>
<rect x="651" y="317.5" width="22" height="77.5" fill="#004a82"/>
<rect x="673" y="317.5" width="14" height="77.5" fill="#0080ff"/>
<rect x="687" y="317.5" width="14" height="77.5" fill="#004a82"/>
<rect x="701" y="317.5" width="56.5" height="77.5" fill="#0080ff"/>
</g>
<line x1="356.5" y1="317.5" x2="356.5" y2="395" stroke="#000" stroke-width="1" stroke-dasharray="2,2"/>
<line x1="377.5" y1="317.5" x2="377.5" y2="395" stroke="#000" stroke-width="1" stroke-dasharray="2,2"/>
<line x1="398.5" y1="317.5" x2="398.5" y2="395" stroke="#000" stroke-width="1" stroke-dasharray="2,2"/>
<line x1="419.5" y1="317.5" x2="419.5" y2="395" stroke="#000" stroke-width="1" stroke-dasharray="2,2"/>
<line x1="440.5" y1="317.5" x2="440.5" y2="395" stroke="#000" stroke-width="1" stroke-dasharray="2,2"/>
<line x1="462.5" y1="317.5" x2="462.5" y2="395" stroke="#000" stroke-width="1" stroke-dasharray="2,2"/>
<line x1="483.5" y1="317.5" x2="483.5" y2="395" stroke="#000" stroke-width="1" stroke-dasharray="2,2"/>
<line x1="504.5" y1="317.5" x2="504.5" y2="395" stroke="#000" stroke-width="1" stroke-dasharray="2,2"/>
<line x1="525.5" y1="317.5" x2="525.5" y2="395" stroke="#000" stroke-width="1" stroke-dasharray="2,2"/>
<line x1="546.5" y1="317.5" x2="546.5" y2="395" stroke="#000" stroke-width="1" stroke-dasharray="2,2"/>
<line x1="567.5" y1="317.5" x2="567.5" y2="395" stroke="#000" stroke-width="1" stroke-dasharray="2,2"/>
<line x1="588.5" y1="317.5" x2="588.5" y2="395" stroke="#000" stroke-width="1" stroke-dasharray="2,2"/>
<line x1="609.5" y1="317.5" x2="609.5" y2="395" stroke="#000" stroke-width="1" stroke-dasharray="2,2"/>
<line x1="630.5" y1="317.5" x2="630.5" y2="395" stroke="#000" stroke-width="1" stroke-dasharray="2,2"/>
<line x1="652.5" y1="317.5" x2="652.5" y2="395" stroke="#000" stroke-width="1" stroke-dasharray="2,2"/>
<line x1="673.5" y1="317.5" x2="673.5" y2="395" stroke="#000" stroke-width="1" stroke-dasharray="2,2"/>
<line x1="694.5" y1="317.5" x2="694.5" y2="395" stroke="#000" stroke-width="1" stroke-dasharray="2,2"/>
<line x1="715.5" y1="317.5" x2="715.5" y2="395" stroke="#000" stroke-width="1" stroke-dasharray="2,2"/>
<line x1="736.5" y1="317.5" x2="736.5" y2="395" stroke="#000" stroke-width="1" stroke-dasharray="2,2"/>
<line x1="342.5" y1="318.5" x2="757.5" y2="318.5" stroke="#000" stroke-width="1" stroke-dasharray="2,2"/>
<line x1="342.5" y1="344.5" x2="757.5" y2="344.5" stroke="#000" stroke-width="1" stroke-dasharray="2,2"/>
<line x1="342.5" y1="369.5" x2="757.5" y2="369.5" stroke="#000" stroke-width="1" stroke-dasharray="2,2"/>
<line x1="342.9" y1="368.5" x2="349.9" y2="368.5" stroke="#ff0000" stroke-width="1"/>
<line x1="350.58" y1="365.5" x2="357.58" y2="365.5" stroke="#ff0000" stroke-width="1"/>
<line x1="356.99" y1="365.5" x2="363.99" y2="365.5" stroke="#ff0000" stroke-width="1"/>
<line x1="363.39" y1="365.5" x2="370.39" y2="365.5" stroke="#ff0000" stroke-width="1"/>
<line x1="369.79" y1="366.5" x2="376.79" y2="366.5" stroke="#ff0000" stroke-width="1"/>
<line x1="377.47" y1="373.5" x2="384.47" y2="373.5" stroke="#ff0000" stroke-width="1"/>
<line x1="385.16" y1="373.5" x2="392.16" y2="373.5" stroke="#ff0000" stroke-width="1"/>
<line x1="391.56" y1="377.5" x2="398.56" y2="377.5" stroke="#ff0000" stroke-width="1"/>
<line x1="397.96" y1="373.5" x2="404.96" y2="373.5" stroke="#ff0000" stroke-width="1"/>
<line x1="405.64" y1="371.5" x2="412.64" y2="371.5" stroke="#ff0000" stroke-width="1"/>
<line x1="412.04" y1="376.5" x2="419.04" y2="376.5" stroke="#ff0000" stroke-width="1"/>
<line x1="419.73" y1="378.5" x2="426.73" y2="378.5" stroke="#ff0000" stroke-width="1"/>
<line x1="427.41" y1="381.5" x2="434.41" y2="381.5" stroke="#ff0000" stroke-width="1"/>
<line x1="433.81" y1="381.5" x2="440.81" y2="381.5" stroke="#ff0000" stroke-width="1"/>
<line x1="441.49" y1="382.5" x2="448.49" y2="382.5" stroke="#ff0000" stroke-width="1"/>
<line x1="447.9" y1="380.5" x2="454.9" y2="380.5" stroke="#ff0000" stroke-width="1"/>
<line x1="454.3" y1="379.5" x2="461.3" y2="379.5" stroke="#ff0000" stroke-width="1"/>
<line x1="461.98" y1="377.5" x2="468.98" y2="377.5" stroke="#ff0000" stroke-width="1"/>
<line x1="469.66" y1="377.5" x2="476.66" y2="377.5" stroke="#ff0000" stroke-width="1"/>
<line x1="476.06" y1="377.5" x2="483.06" y2="377.5" stroke="#ff0000" stroke-width="1"/>
<line x1="483.75" y1="373.5" x2="490.75" y2="373.5" stroke="#ff0000" stroke-width="1"/>
<line x1="490.15" y1="373.5" x2="497.15" y2="373.5" stroke="#ff0000" stroke-width="1"/>
<line x1="496.55" y1="375.5" x2="503.55" y2="375.5" stroke="#ff0000" stroke-width="1"/>
<line x1="504.23" y1="373.5" x2="511.23" y2="373.5" stroke="#ff0000" stroke-width="1"/>
<line x1="511.92" y1="363.5" x2="518.92" y2="363.5" stroke="#ff0000" stroke-width="1"/>
<line x1="518.32" y1="359.5" x2="525.32" y2="359.5" stroke="#ff0000" stroke-width="1"/>
<line x1="526" y1="360.5" x2="533" y2="360.5" stroke="#ff0000" stroke-width="1"/>
<line x1="532.4" y1="358.5" x2="539.4" y2="358.5" stroke="#ff0000" stroke-width="1"/>
<line x1="540.09" y1="356.5" x2="547.09" y2="356.5" stroke="#ff0000" stroke-width="1"/>
<line x1="545.21" y1="359.5" x2="552.21" y2="359.5" stroke="#ff0000" stroke-width="1"/>
<line x1="556.74" y1="345.5" x2="563.74" y2="345.5" stroke="#ff0000" stroke-width="1"/>
<line x1="564.43" y1="341.5" x2="571.43" y2="341.5" stroke="#ff0000" stroke-width="1"/>
<line x1="572.11" y1="341.5" x2="579.11" y2="341.5" stroke="#ff0000" stroke-width="1"/>
<line x1="578.51" y1="350.5" x2="585.51" y2="350.5" stroke="#ff0000" stroke-width="1"/>
<line x1="584.91" y1="352.5" x2="591.91" y2="352.5" stroke="#ff0000" stroke-width="1"/>
<line x1="591.31" y1="351.5" x2="598.31" y2="351.5" stroke="#ff0000" stroke-width="1"/>
<line x1="600.28" y1="343.5" x2="607.28" y2="343.5" stroke="#ff0000" stroke-width="1"/>
<line x1="609.24" y1="338.5" x2="616.24" y2="338.5" stroke="#ff0000" stroke-width="1"/>
<line x1="615.64" y1="340.5" x2="622.64" y2="340.5" stroke="#ff0000" stroke-width="1"/>
<line x1="623.32" y1="341.5" x2="630.32" y2="341.5" stroke="#ff0000" stroke-width="1"/>
<line x1="631.01" y1="347.5" x2="638.01" y2="347.5" stroke="#ff0000" stroke-width="1"/>
<line x1="638.69" y1="350.5" x2="645.69" y2="350.5" stroke="#ff0000" stroke-width="1"/>
<line x1="645.09" y1="350.5" x2="652.09" y2="350.5" stroke="#ff0000" stroke-width="1"/>
<line x1="651.49" y1="348.5" x2="658.49" y2="348.5" stroke="#ff0000" stroke-width="1"/>
<line x1="659.18" y1="343.5" x2="666.18" y2="343.5" stroke="#ff0000" stroke-width="1"/>
<line x1="666.86" y1="345.5" x2="673.86" y2="345.5" stroke="#ff0000" stroke-width="1"/>
<line x1="673.26" y1="352.5" x2="680.26" y2="352.5" stroke="#ff0000" stroke-width="1"/>
<line x1="680.94" y1="349.5" x2="687.94" y2="349.5" stroke="#ff0000" stroke-width="1"/>
<line x1="688.63" y1="349.5" x2="695.63" y2="349.5" stroke="#ff0000" stroke-width="1"/>
<line x1="695.03" y1="350.5" x2="702.03" y2="350.5" stroke="#ff0000" stroke-width="1"/>
<line x1="702.71" y1="354.5" x2="709.71" y2="354.5" stroke="#ff0000" stroke-width="1"/>
<line x1="710.39" y1="354.5" x2="717.39" y2="354.5" stroke="#ff0000" stroke-width="1"/>
<line x1="716.79" y1="353.5" x2="723.79" y2="353.5" stroke="#ff0000" stroke-width="1"/>
<line x1="723.2" y1="347.5" x2="730.2" y2="347.5" stroke="#ff0000" stroke-width="1"/>
<line x1="729.6" y1="348.5" x2="736.6" y2="348.5" stroke="#ff0000" stroke-width="1"/>
<line x1="737.28" y1="354.5" x2="744.28" y2="354.5" stroke="#ff0000" stroke-width="1"/>
<line x1="743.68" y1="354.5" x2="750.68" y2="354.5" stroke="#ff0000" stroke-width="1"/>
<line x1="750.5" y1="352.5" x2="757.5" y2="352.5" stroke="#ff0000" stroke-width="1"/>
<polyline points="342.5,383.2 355.4,379.9 365.6,379.1 370.7,379.9 378.4,383.7 391.2,386.3 406.6,385.8 413,384.5 427.1,388.8 441.2,389.3 454,394 461.6,388.1 469.3,386.3 475.7,388.8 489.8,386.3 496.2,387.5 509,386.3 518,380.6 529.5,381.1 539.7,380.6 550,381.1 560.2,378.6 567.9,380.6 575.6,379.1 588.4,378.1 602.5,376.5 610.2,373.5 624.3,374.2 629.4,373.5 638.3,374.7 646,377.3 652.4,374.7 664,371.4 672.9,376 680.6,376 688.3,374 698.5,374.2 708.8,374 721.6,377.3 734.4,375.5 744.6,377 757.5,377" fill="none" stroke="#0000a0" stroke-width="2.4" stroke-linejoin="round"/>
<rect x="342.5" y="318" width="415" height="77.5" fill="none" stroke="#000" stroke-width="1"/>
<rect x="342.5" y="401" width="415" height="31" fill="#ffffff"/>
<rect x="393.4" y="401" width="114" height="31" fill="#000" fill-opacity="0.078"/>
<rect x="562.3" y="401" width="114" height="31" fill="#000" fill-opacity="0.078"/>
<rect x="731.1" y="401" width="26.4" height="31" fill="#000" fill-opacity="0.078"/>
<line x1="356.5" y1="401" x2="356.5" y2="432" stroke="#000" stroke-width="1" stroke-dasharray="2,2"/>
<line x1="377.5" y1="401" x2="377.5" y2="432" stroke="#000" stroke-width="1" stroke-dasharray="2,2"/>
<line x1="398.5" y1="401" x2="398.5" y2="432" stroke="#000" stroke-width="1" stroke-dasharray="2,2"/>
<line x1="419.5" y1="401" x2="419.5" y2="432" stroke="#000" stroke-width="1" stroke-dasharray="2,2"/>
<line x1="440.5" y1="401" x2="440.5" y2="432" stroke="#000" stroke-width="1" stroke-dasharray="2,2"/>
<line x1="462.5" y1="401" x2="462.5" y2="432" stroke="#000" stroke-width="1" stroke-dasharray="2,2"/>
<line x1="483.5" y1="401" x2="483.5" y2="432" stroke="#000" stroke-width="1" stroke-dasharray="2,2"/>
<line x1="504.5" y1="401" x2="504.5" y2="432" stroke="#000" stroke-width="1" stroke-dasharray="2,2"/>
<line x1="525.5" y1="401" x2="525.5" y2="432" stroke="#000" stroke-width="1" stroke-dasharray="2,2"/>
<line x1="546.5" y1="401" x2="546.5" y2="432" stroke="#000" stroke-width="1" stroke-dasharray="2,2"/>
<line x1="567.5" y1="401" x2="567.5" y2="432" stroke="#000" stroke-width="1" stroke-dasharray="2,2"/>
<line x1="588.5" y1="401" x2="588.5" y2="432" stroke="#000" stroke-width="1" stroke-dasharray="2,2"/>
<line x1="609.5" y1="401" x2="609.5" y2="432" stroke="#000" stroke-width="1" stroke-dasharray="2,2"/>
<line x1="630.5" y1="401" x2="630.5" y2="432" stroke="#000" stroke-width="1" stroke-dasharray="2,2"/>
<line x1="652.5" y1="401" x2="652.5" y2="432" stroke="#000" stroke-width="1" stroke-dasharray="2,2"/>
<line x1="673.5" y1="401" x2="673.5" y2="432" stroke="#000" stroke-width="1" stroke-dasharray="2,2"/>
<line x1="694.5" y1="401" x2="694.5" y2="432" stroke="#000" stroke-width="1" stroke-dasharray="2,2"/>
<line x1="715.5" y1="401" x2="715.5" y2="432" stroke="#000" stroke-width="1" stroke-dasharray="2,2"/>
<line x1="736.5" y1="401" x2="736.5" y2="432" stroke="#000" stroke-width="1" stroke-dasharray="2,2"/>
<line x1="337.92" y1="422.09" x2="343.03" y2="415.3" stroke="#1414a0" stroke-width="1.5"/>
<polygon points="346.34,410.91 345.27,416.99 340.79,413.62" fill="#1414a0"/>
<line x1="344.39" y1="421.62" x2="350.19" y2="415.4" stroke="#1414a0" stroke-width="1.5"/>
<polygon points="353.93,411.38 352.23,417.31 348.14,413.49" fill="#1414a0"/>
<line x1="350.54" y1="420.61" x2="357.41" y2="415.62" stroke="#1414a0" stroke-width="1.5"/>
<polygon points="361.86,412.39 359.06,417.88 355.77,413.35" fill="#1414a0"/>
<line x1="356.62" y1="418.78" x2="364.66" y2="416.01" stroke="#1414a0" stroke-width="1.5"/>
<polygon points="369.86,414.22 365.57,418.66 363.75,413.36" fill="#1414a0"/>
<line x1="363.33" y1="417.35" x2="371.76" y2="416.32" stroke="#1414a0" stroke-width="1.5"/>
<polygon points="377.22,415.65 372.1,419.1 371.42,413.54" fill="#1414a0"/>
<line x1="370.33" y1="417.02" x2="378.81" y2="416.39" stroke="#1414a0" stroke-width="1.5"/>
<polygon points="384.29,415.98 379.02,419.18 378.6,413.6" fill="#1414a0"/>
<line x1="377.45" y1="417.71" x2="385.83" y2="416.24" stroke="#1414a0" stroke-width="1.5"/>
<polygon points="391.24,415.29 386.31,419 385.34,413.48" fill="#1414a0"/>
<line x1="384.57" y1="418.1" x2="392.85" y2="416.16" stroke="#1414a0" stroke-width="1.5"/>
<polygon points="398.2,414.9 393.48,418.88 392.21,413.43" fill="#1414a0"/>
<line x1="391.45" y1="417.13" x2="399.92" y2="416.36" stroke="#1414a0" stroke-width="1.5"/>
<polygon points="405.39,415.87 400.17,419.15 399.66,413.58" fill="#1414a0"/>
<line x1="398.46" y1="416.56" x2="406.96" y2="416.49" stroke="#1414a0" stroke-width="1.5"/>
<polygon points="412.46,416.44 406.98,419.29 406.93,413.69" fill="#1414a0"/>
<line x1="405.64" y1="415.1" x2="413.97" y2="416.8" stroke="#1414a0" stroke-width="1.5"/>
<polygon points="419.35,417.9 413.4,419.54 414.53,414.06" fill="#1414a0"/>
<line x1="414.05" y1="412.15" x2="420.71" y2="417.43" stroke="#1414a0" stroke-width="1.5"/>
<polygon points="425.02,420.85 418.97,419.63 422.45,415.24" fill="#1414a0"/>
<line x1="421.69" y1="411.48" x2="427.61" y2="417.58" stroke="#1414a0" stroke-width="1.5"/>
<polygon points="431.45,421.52 425.61,419.53 429.62,415.63" fill="#1414a0"/>
<line x1="428.29" y1="411.94" x2="434.75" y2="417.48" stroke="#1414a0" stroke-width="1.5"/>
<polygon points="438.92,421.06 432.92,419.6 436.57,415.35" fill="#1414a0"/>
<line x1="433.99" y1="414.34" x2="442.07" y2="416.96" stroke="#1414a0" stroke-width="1.5"/>
<polygon points="447.3,418.66 441.21,419.63 442.94,414.3" fill="#1414a0"/>
<line x1="440.74" y1="417.42" x2="449.17" y2="416.3" stroke="#1414a0" stroke-width="1.5"/>
<polygon points="454.62,415.58 449.54,419.08 448.8,413.53" fill="#1414a0"/>
<line x1="460.17" y1="420.89" x2="453.55" y2="415.56" stroke="#1414a0" stroke-width="1.5"/>
<polygon points="449.27,412.11 455.31,413.38 451.79,417.74" fill="#1414a0"/>
<line x1="463.14" y1="423.36" x2="461.46" y2="415.03" stroke="#1414a0" stroke-width="1.5"/>
<polygon points="460.37,409.64 464.2,414.47 458.71,415.58" fill="#1414a0"/>
<line x1="469.59" y1="423.45" x2="468.62" y2="415.01" stroke="#1414a0" stroke-width="1.5"/>
<polygon points="468,409.55 471.4,414.69 465.84,415.33" fill="#1414a0"/>
<line x1="476.15" y1="423.49" x2="475.76" y2="415" stroke="#1414a0" stroke-width="1.5"/>
<polygon points="475.5,409.51 478.56,414.87 472.96,415.13" fill="#1414a0"/>
<line x1="486.27" y1="422.62" x2="482.14" y2="415.19" stroke="#1414a0" stroke-width="1.5"/>
<polygon points="479.46,410.38 484.58,413.83 479.69,416.55" fill="#1414a0"/>
<line x1="493.52" y1="422.49" x2="489.13" y2="415.22" stroke="#1414a0" stroke-width="1.5"/>
<polygon points="486.29,410.51 491.53,413.77 486.73,416.66" fill="#1414a0"/>
<line x1="500.66" y1="422.43" x2="496.14" y2="415.23" stroke="#1414a0" stroke-width="1.5"/>
<polygon points="493.22,410.57 498.51,413.74 493.77,416.72" fill="#1414a0"/>
<line x1="507.93" y1="422.28" x2="503.13" y2="415.26" stroke="#1414a0" stroke-width="1.5"/>
<polygon points="500.03,410.72 505.44,413.68 500.82,416.84" fill="#1414a0"/>
<line x1="515.21" y1="422.1" x2="510.12" y2="415.3" stroke="#1414a0" stroke-width="1.5"/>
<polygon points="506.82,410.9 512.36,413.62 507.87,416.98" fill="#1414a0"/>
<line x1="522.73" y1="421.71" x2="517.05" y2="415.38" stroke="#1414a0" stroke-width="1.5"/>
<polygon points="513.37,411.29 519.13,413.51 514.97,417.26" fill="#1414a0"/>
<line x1="529.41" y1="422" x2="524.16" y2="415.32" stroke="#1414a0" stroke-width="1.5"/>
<polygon points="520.76,411 526.36,413.59 521.96,417.05" fill="#1414a0"/>
<line x1="536.04" y1="422.3" x2="531.29" y2="415.26" stroke="#1414a0" stroke-width="1.5"/>
<polygon points="528.21,410.7 533.61,413.69 528.96,416.82" fill="#1414a0"/>
<line x1="543.55" y1="421.95" x2="538.22" y2="415.33" stroke="#1414a0" stroke-width="1.5"/>
<polygon points="534.77,411.05 540.4,413.58 536.04,417.09" fill="#1414a0"/>
<line x1="550.86" y1="421.72" x2="545.2" y2="415.38" stroke="#1414a0" stroke-width="1.5"/>
<polygon points="541.54,411.28 547.29,413.52 543.11,417.25" fill="#1414a0"/>
<line x1="558.45" y1="421.17" x2="552.12" y2="415.5" stroke="#1414a0" stroke-width="1.5"/>
<polygon points="548.02,411.83 553.99,413.41 550.25,417.59" fill="#1414a0"/>
<line x1="563.95" y1="422.45" x2="559.48" y2="415.22" stroke="#1414a0" stroke-width="1.5"/>
<polygon points="556.59,410.55 561.87,413.75 557.1,416.7" fill="#1414a0"/>
<line x1="571.59" y1="422.04" x2="566.39" y2="415.31" stroke="#1414a0" stroke-width="1.5"/>
<polygon points="563.03,410.96 568.61,413.6 564.18,417.02" fill="#1414a0"/>
<line x1="578.62" y1="422.05" x2="573.43" y2="415.31" stroke="#1414a0" stroke-width="1.5"/>
<polygon points="570.08,410.95 575.65,413.6 571.21,417.02" fill="#1414a0"/>
<line x1="585.06" y1="422.46" x2="580.6" y2="415.22" stroke="#1414a0" stroke-width="1.5"/>
<polygon points="577.71,410.54 582.98,413.75 578.21,416.69" fill="#1414a0"/>
<line x1="592.26" y1="422.35" x2="587.6" y2="415.25" stroke="#1414a0" stroke-width="1.5"/>
<polygon points="584.58,410.65 589.94,413.71 585.26,416.78" fill="#1414a0"/>
<line x1="599.84" y1="421.96" x2="594.52" y2="415.33" stroke="#1414a0" stroke-width="1.5"/>
<polygon points="591.07,411.04 596.7,413.58 592.34,417.09" fill="#1414a0"/>
<line x1="605.2" y1="422.96" x2="601.91" y2="415.12" stroke="#1414a0" stroke-width="1.5"/>
<polygon points="599.79,410.04 604.5,414.03 599.33,416.2" fill="#1414a0"/>
<line x1="611.7" y1="423.16" x2="609.07" y2="415.07" stroke="#1414a0" stroke-width="1.5"/>
<polygon points="607.37,409.84 611.73,414.21 606.41,415.94" fill="#1414a0"/>
<line x1="619.22" y1="422.98" x2="616" y2="415.11" stroke="#1414a0" stroke-width="1.5"/>
<polygon points="613.92,410.02 618.59,414.05 613.41,416.17" fill="#1414a0"/>
<line x1="626.67" y1="422.8" x2="622.95" y2="415.15" stroke="#1414a0" stroke-width="1.5"/>
<polygon points="620.55,410.2 625.47,413.93 620.43,416.37" fill="#1414a0"/>
<line x1="633.12" y1="423.05" x2="630.11" y2="415.1" stroke="#1414a0" stroke-width="1.5"/>
<polygon points="628.17,409.95 632.73,414.11 627.49,416.09" fill="#1414a0"/>
<line x1="639.89" y1="423.14" x2="637.21" y2="415.08" stroke="#1414a0" stroke-width="1.5"/>
<polygon points="635.47,409.86 639.86,414.19 634.55,415.96" fill="#1414a0"/>
<line x1="648.95" y1="422.08" x2="643.81" y2="415.31" stroke="#1414a0" stroke-width="1.5"/>
<polygon points="640.48,410.92 646.04,413.61 641.58,417" fill="#1414a0"/>
<line x1="656.07" y1="422.01" x2="650.83" y2="415.32" stroke="#1414a0" stroke-width="1.5"/>
<polygon points="647.44,410.99 653.04,413.59 648.62,417.04" fill="#1414a0"/>
<line x1="662.5" y1="422.44" x2="658" y2="415.23" stroke="#1414a0" stroke-width="1.5"/>
<polygon points="655.08,410.56 660.37,413.74 655.62,416.71" fill="#1414a0"/>
<line x1="669.61" y1="422.39" x2="665.02" y2="415.24" stroke="#1414a0" stroke-width="1.5"/>
<polygon points="662.04,410.61 667.37,413.72 662.66,416.75" fill="#1414a0"/>
<line x1="677.23" y1="421.97" x2="671.93" y2="415.33" stroke="#1414a0" stroke-width="1.5"/>
<polygon points="668.5,411.03 674.12,413.58 669.74,417.07" fill="#1414a0"/>
<line x1="684.05" y1="422.14" x2="679.01" y2="415.29" stroke="#1414a0" stroke-width="1.5"/>
<polygon points="675.75,410.86 681.27,413.63 676.76,416.95" fill="#1414a0"/>
<line x1="691.26" y1="422.01" x2="686.01" y2="415.32" stroke="#1414a0" stroke-width="1.5"/>
<polygon points="682.62,410.99 688.22,413.59 683.81,417.05" fill="#1414a0"/>
<line x1="698.63" y1="421.73" x2="692.98" y2="415.38" stroke="#1414a0" stroke-width="1.5"/>
<polygon points="689.32,411.27 695.07,413.52 690.89,417.24" fill="#1414a0"/>
<line x1="706.05" y1="421.36" x2="699.93" y2="415.46" stroke="#1414a0" stroke-width="1.5"/>
<polygon points="695.98,411.64 701.88,413.44 697.99,417.47" fill="#1414a0"/>
<line x1="712.67" y1="421.76" x2="707.06" y2="415.37" stroke="#1414a0" stroke-width="1.5"/>
<polygon points="703.43,411.24 709.16,413.53 704.96,417.22" fill="#1414a0"/>
<line x1="719.41" y1="422" x2="714.16" y2="415.32" stroke="#1414a0" stroke-width="1.5"/>
<polygon points="710.76,411 716.36,413.59 711.96,417.05" fill="#1414a0"/>
<line x1="726.96" y1="421.56" x2="721.09" y2="415.42" stroke="#1414a0" stroke-width="1.5"/>
<polygon points="717.29,411.44 723.11,413.48 719.06,417.35" fill="#1414a0"/>
<line x1="734.14" y1="421.42" x2="728.09" y2="415.45" stroke="#1414a0" stroke-width="1.5"/>
<polygon points="724.18,411.58 730.06,413.45 726.13,417.44" fill="#1414a0"/>
<line x1="740.65" y1="421.91" x2="735.25" y2="415.34" stroke="#1414a0" stroke-width="1.5"/>
<polygon points="731.75,411.09 737.41,413.56 733.08,417.12" fill="#1414a0"/>
<line x1="747.67" y1="421.92" x2="742.29" y2="415.34" stroke="#1414a0" stroke-width="1.5"/>
<polygon points="738.8,411.08 744.45,413.57 740.12,417.11" fill="#1414a0"/>
<line x1="755.24" y1="421.43" x2="749.21" y2="415.44" stroke="#1414a0" stroke-width="1.5"/>
<polygon points="745.3,411.57 751.18,413.46 747.24,417.43" fill="#1414a0"/>
<line x1="762.16" y1="421.55" x2="756.27" y2="415.42" stroke="#1414a0" stroke-width="1.5"/>
<polygon points="752.46,411.45 758.29,413.48 754.25,417.36" fill="#1414a0"/>
<line x1="342.5" y1="433.5" x2="757.5" y2="433.5" stroke="#888" stroke-width="1"/>
<rect x="342.5" y="401.5" width="415" height="31" fill="none" stroke="#000" stroke-width="1"/>
<clipPath id="cbclipR"><rect x="342.5" y="438" width="418" height="78"/></clipPath>
<rect x="342.5" y="438" width="415" height="78" fill="#87cefa"/>
<rect x="393.4" y="438" width="114" height="78" fill="#000" fill-opacity="0.078"/>
<rect x="562.3" y="438" width="114" height="78" fill="#000" fill-opacity="0.078"/>
<rect x="731.1" y="438" width="26.4" height="78" fill="#000" fill-opacity="0.078"/>
<line x1="356.5" y1="438" x2="356.5" y2="516" stroke="#000" stroke-width="1" stroke-dasharray="2,2"/>
<line x1="377.5" y1="438" x2="377.5" y2="516" stroke="#000" stroke-width="1" stroke-dasharray="2,2"/>
<line x1="398.5" y1="438" x2="398.5" y2="516" stroke="#000" stroke-width="1" stroke-dasharray="2,2"/>
<line x1="419.5" y1="438" x2="419.5" y2="516" stroke="#000" stroke-width="1" stroke-dasharray="2,2"/>
<line x1="440.5" y1="438" x2="440.5" y2="516" stroke="#000" stroke-width="1" stroke-dasharray="2,2"/>
<line x1="462.5" y1="438" x2="462.5" y2="516" stroke="#000" stroke-width="1" stroke-dasharray="2,2"/>
<line x1="483.5" y1="438" x2="483.5" y2="516" stroke="#000" stroke-width="1" stroke-dasharray="2,2"/>
<line x1="504.5" y1="438" x2="504.5" y2="516" stroke="#000" stroke-width="1" stroke-dasharray="2,2"/>
<line x1="525.5" y1="438" x2="525.5" y2="516" stroke="#000" stroke-width="1" stroke-dasharray="2,2"/>
<line x1="546.5" y1="438" x2="546.5" y2="516" stroke="#000" stroke-width="1" stroke-dasharray="2,2"/>
<line x1="567.5" y1="438" x2="567.5" y2="516" stroke="#000" stroke-width="1" stroke-dasharray="2,2"/>
<line x1="588.5" y1="438" x2="588.5" y2="516" stroke="#000" stroke-width="1" stroke-dasharray="2,2"/>
<line x1="609.5" y1="438" x2="609.5" y2="516" stroke="#000" stroke-width="1" stroke-dasharray="2,2"/>
<line x1="630.5" y1="438" x2="630.5" y2="516" stroke="#000" stroke-width="1" stroke-dasharray="2,2"/>
<line x1="652.5" y1="438" x2="652.5" y2="516" stroke="#000" stroke-width="1" stroke-dasharray="2,2"/>
<line x1="673.5" y1="438" x2="673.5" y2="516" stroke="#000" stroke-width="1" stroke-dasharray="2,2"/>
<line x1="694.5" y1="438" x2="694.5" y2="516" stroke="#000" stroke-width="1" stroke-dasharray="2,2"/>
<line x1="715.5" y1="438" x2="715.5" y2="516" stroke="#000" stroke-width="1" stroke-dasharray="2,2"/>
<line x1="736.5" y1="438" x2="736.5" y2="516" stroke="#000" stroke-width="1" stroke-dasharray="2,2"/>
<line x1="342.5" y1="457.5" x2="757.5" y2="457.5" stroke="#000" stroke-width="1" stroke-dasharray="2,2"/>
<line x1="342.5" y1="477.5" x2="757.5" y2="477.5" stroke="#000" stroke-width="1" stroke-dasharray="2,2"/>
<line x1="342.5" y1="496.5" x2="757.5" y2="496.5" stroke="#000" stroke-width="1" stroke-dasharray="2,2"/>
<g clip-path="url(#cbclipR)">
<polyline points="342.5,513.4 348.5,493.8 356.2,481.5 363.9,482.3 370.7,480.6 376.7,480.6 384.4,484.7 391.2,486.1 398,475.8 405.7,484 412.6,513.9 420.2,514.2 442.4,514.2 456.1,513.4 462.1,510.8 469.8,511.3 480,513 517.7,513.4 532.2,507.4 539.9,513.4 560.4,510.8 567,513.4 581,511.5 594.5,513.4 609.9,512.5 615,494.1 623.5,510 630.9,487 637.6,476.1 644.7,472 651.8,473.8 658.9,468.8 665.9,471.7 673,471.1 680.1,483.9 687.1,469.7 694.2,474.7 701.3,473.3 708.4,482.1 715.4,473.8 729.6,475 736.1,476.8 743.2,511.8 757.5,513" fill="none" stroke="#ff9f00" stroke-width="2.2" stroke-linejoin="round"/>
<circle cx="343.1" cy="511" r="2.8" fill="#666"/>
<circle cx="356.6" cy="510" r="2.8" fill="#777"/>
<circle cx="363.6" cy="508.5" r="2.8" fill="#888"/>
<circle cx="370.4" cy="507.5" r="2.8" fill="#777"/>
<circle cx="377.6" cy="508" r="2.8" fill="#888"/>
<circle cx="384.4" cy="507.5" r="2.8" fill="#777"/>
<circle cx="391.6" cy="510" r="2.8" fill="#aaa"/>
<circle cx="398.6" cy="509" r="2.8" fill="#999"/>
<circle cx="391.6" cy="497.2" r="2.8" fill="#555"/>
<circle cx="398.6" cy="505.7" r="2.8" fill="#555"/>
<circle cx="637.68" cy="511" r="2.8" fill="#777"/>
<circle cx="644.72" cy="511" r="2.8" fill="#777"/>
<circle cx="651.75" cy="511" r="2.8" fill="#777"/>
<circle cx="658.79" cy="511" r="2.8" fill="#777"/>
<circle cx="665.83" cy="511" r="2.8" fill="#777"/>
<circle cx="672.87" cy="511" r="2.8" fill="#777"/>
<circle cx="679.9" cy="511" r="2.8" fill="#777"/>
<circle cx="686.94" cy="511" r="2.8" fill="#777"/>
<circle cx="693.98" cy="511" r="2.8" fill="#777"/>
<circle cx="701.01" cy="511" r="2.8" fill="#777"/>
<circle cx="708.05" cy="511" r="2.8" fill="#777"/>
<circle cx="715.09" cy="511" r="2.8" fill="#777"/>
<circle cx="722.12" cy="511" r="2.8" fill="#777"/>
<circle cx="729.16" cy="511" r="2.8" fill="#777"/>
<circle cx="736.2" cy="511" r="2.8" fill="#777"/>
<circle cx="743.23" cy="511" r="2.8" fill="#777"/>
<circle cx="750.27" cy="511" r="2.8" fill="#777"/>
<circle cx="349.4" cy="510" r="2.9" fill="#000"/>
<circle cx="356.6" cy="496.3" r="2.9" fill="#000"/>
<circle cx="363.6" cy="496.3" r="2.9" fill="#000"/>
<circle cx="370.4" cy="495.5" r="2.9" fill="#000"/>
<circle cx="377.6" cy="497.2" r="2.9" fill="#000"/>
<circle cx="384.4" cy="493.8" r="2.9" fill="#000"/>
<circle cx="391.6" cy="493.4" r="2.9" fill="#000"/>
<circle cx="398.6" cy="493.4" r="2.9" fill="#000"/>
<circle cx="405.7" cy="509.1" r="2.9" fill="#000"/>
<circle cx="412.5" cy="510" r="2.9" fill="#000"/>
<circle cx="419.53" cy="510" r="2.9" fill="#000"/>
<circle cx="426.57" cy="510" r="2.9" fill="#000"/>
<circle cx="433.61" cy="510" r="2.9" fill="#000"/>
<circle cx="440.64" cy="510" r="2.9" fill="#000"/>
<circle cx="447.68" cy="510" r="2.9" fill="#000"/>
<circle cx="454.72" cy="510" r="2.9" fill="#000"/>
<circle cx="461.75" cy="510" r="2.9" fill="#000"/>
<circle cx="468.79" cy="510" r="2.9" fill="#000"/>
<circle cx="475.83" cy="510" r="2.9" fill="#000"/>
<circle cx="482.87" cy="510" r="2.9" fill="#000"/>
<circle cx="489.9" cy="510" r="2.9" fill="#000"/>
<circle cx="496.94" cy="510" r="2.9" fill="#000"/>
<circle cx="503.98" cy="510" r="2.9" fill="#000"/>
<circle cx="511.01" cy="510" r="2.9" fill="#000"/>
<circle cx="518.05" cy="510" r="2.9" fill="#000"/>
<circle cx="525.09" cy="510" r="2.9" fill="#000"/>
<circle cx="532.12" cy="510" r="2.9" fill="#000"/>
<circle cx="539.16" cy="510" r="2.9" fill="#000"/>
<circle cx="546.2" cy="510" r="2.9" fill="#000"/>
<circle cx="553.24" cy="510" r="2.9" fill="#000"/>
<circle cx="560.27" cy="510" r="2.9" fill="#000"/>
<circle cx="567.31" cy="510" r="2.9" fill="#000"/>
<circle cx="574.35" cy="510" r="2.9" fill="#000"/>
<circle cx="581.38" cy="510" r="2.9" fill="#000"/>
<circle cx="588.42" cy="510" r="2.9" fill="#000"/>
<circle cx="595.46" cy="510" r="2.9" fill="#000"/>
<circle cx="602.5" cy="510" r="2.9" fill="#000"/>
<circle cx="609.5" cy="502.8" r="2.9" fill="#000"/>
<circle cx="616.4" cy="484.4" r="2.9" fill="#000"/>
<circle cx="623.5" cy="483.2" r="2.9" fill="#000"/>
<circle cx="630.6" cy="482.6" r="2.9" fill="#000"/>
<circle cx="637.6" cy="503.5" r="2.9" fill="#000"/>
<circle cx="644.7" cy="506.5" r="2.9" fill="#000"/>
<circle cx="651.8" cy="506.2" r="2.9" fill="#000"/>
<circle cx="658.9" cy="506.9" r="2.9" fill="#000"/>
<circle cx="665.9" cy="506.5" r="2.9" fill="#000"/>
<circle cx="672.9" cy="506.2" r="2.9" fill="#000"/>
<circle cx="679.9" cy="503.5" r="2.9" fill="#000"/>
<circle cx="687" cy="503.5" r="2.9" fill="#000"/>
<circle cx="694" cy="505.6" r="2.9" fill="#000"/>
<circle cx="701.1" cy="505.6" r="2.9" fill="#000"/>
<circle cx="708.2" cy="505.6" r="2.9" fill="#000"/>
<circle cx="715.3" cy="503.5" r="2.9" fill="#000"/>
<circle cx="722.3" cy="504.2" r="2.9" fill="#000"/>
<circle cx="729.4" cy="505.3" r="2.9" fill="#000"/>
<circle cx="736.5" cy="508.3" r="2.9" fill="#000"/>
<circle cx="743.6" cy="510.4" r="2.9" fill="#000"/>
<circle cx="750.6" cy="510.4" r="2.9" fill="#000"/>
<circle cx="757.3" cy="510.4" r="2.9" fill="#000"/>
<circle cx="343.1" cy="449.9" r="2.9" fill="#b01e1e"/>
<circle cx="349.4" cy="449.9" r="2.9" fill="#b01e1e"/>
<circle cx="356.6" cy="449.9" r="2.9" fill="#b01e1e"/>
<circle cx="363.6" cy="449.9" r="2.9" fill="#b01e1e"/>
<circle cx="370.4" cy="449.9" r="2.9" fill="#b01e1e"/>
<circle cx="377.6" cy="464.7" r="2.9" fill="#b01e1e"/>
<circle cx="384.4" cy="469.3" r="2.9" fill="#b01e1e"/>
<circle cx="391.6" cy="470.2" r="2.9" fill="#b01e1e"/>
<circle cx="398.6" cy="473.3" r="2.9" fill="#b01e1e"/>
<circle cx="405.7" cy="471.9" r="2.9" fill="#b01e1e"/>
<circle cx="412.9" cy="475.5" r="2.9" fill="#b01e1e"/>
<circle cx="419.7" cy="475.5" r="2.9" fill="#b01e1e"/>
<circle cx="426.7" cy="474.6" r="2.9" fill="#b01e1e"/>
<circle cx="433.6" cy="480.4" r="2.9" fill="#b01e1e"/>
<circle cx="440.7" cy="482.1" r="2.9" fill="#b01e1e"/>
<circle cx="447.6" cy="480.1" r="2.9" fill="#b01e1e"/>
<circle cx="454.9" cy="480.1" r="2.9" fill="#b01e1e"/>
<circle cx="461.7" cy="482.1" r="2.9" fill="#b01e1e"/>
<circle cx="468.9" cy="449.9" r="2.9" fill="#b01e1e"/>
<circle cx="476.1" cy="475.8" r="2.9" fill="#b01e1e"/>
<circle cx="483.2" cy="445.6" r="2.9" fill="#b01e1e"/>
<circle cx="490" cy="445.6" r="2.9" fill="#b01e1e"/>
<circle cx="497.2" cy="445.6" r="2.9" fill="#b01e1e"/>
<circle cx="504.4" cy="445.6" r="2.9" fill="#b01e1e"/>
<circle cx="511.2" cy="445.6" r="2.9" fill="#b01e1e"/>
<circle cx="518.2" cy="445.6" r="2.9" fill="#b01e1e"/>
<circle cx="525.4" cy="447.1" r="2.9" fill="#b01e1e"/>
<circle cx="532.5" cy="447.1" r="2.9" fill="#b01e1e"/>
<circle cx="539.4" cy="447.1" r="2.9" fill="#b01e1e"/>
<circle cx="546.4" cy="447.1" r="2.9" fill="#b01e1e"/>
<circle cx="553.5" cy="448.5" r="2.9" fill="#b01e1e"/>
<circle cx="560.4" cy="480.4" r="2.9" fill="#b01e1e"/>
<circle cx="567.2" cy="480.1" r="2.9" fill="#b01e1e"/>
<circle cx="574.4" cy="480.1" r="2.9" fill="#b01e1e"/>
<circle cx="581.4" cy="478" r="2.9" fill="#b01e1e"/>
<circle cx="588.5" cy="478" r="2.9" fill="#b01e1e"/>
<circle cx="595.7" cy="476.7" r="2.9" fill="#b01e1e"/>
<circle cx="602.7" cy="478" r="2.9" fill="#b01e1e"/>
<circle cx="609.9" cy="480.1" r="2.9" fill="#b01e1e"/>
<circle cx="616.4" cy="479.6" r="2.9" fill="#b01e1e"/>
<circle cx="623.5" cy="480.3" r="2.9" fill="#b01e1e"/>
<circle cx="630.6" cy="481.5" r="2.9" fill="#b01e1e"/>
<circle cx="637.6" cy="481.7" r="2.9" fill="#b01e1e"/>
<circle cx="644.7" cy="481.7" r="2.9" fill="#b01e1e"/>
<circle cx="651.8" cy="481.7" r="2.9" fill="#b01e1e"/>
<circle cx="658.9" cy="481.7" r="2.9" fill="#b01e1e"/>
<circle cx="665.9" cy="481.7" r="2.9" fill="#b01e1e"/>
<circle cx="672.5" cy="454.9" r="2.9" fill="#b01e1e"/>
<circle cx="679.9" cy="454.9" r="2.9" fill="#b01e1e"/>
<circle cx="687" cy="454.9" r="2.9" fill="#b01e1e"/>
<circle cx="694" cy="454.9" r="2.9" fill="#b01e1e"/>
<circle cx="701.1" cy="454.9" r="2.9" fill="#b01e1e"/>
<circle cx="708.2" cy="455.6" r="2.9" fill="#b01e1e"/>
<circle cx="715.3" cy="455.6" r="2.9" fill="#b01e1e"/>
<circle cx="722.3" cy="456.5" r="2.9" fill="#b01e1e"/>
<circle cx="729.4" cy="456.5" r="2.9" fill="#b01e1e"/>
<circle cx="736.5" cy="456.5" r="2.9" fill="#b01e1e"/>
<circle cx="743.6" cy="455.6" r="2.9" fill="#b01e1e"/>
<circle cx="750.6" cy="455.6" r="2.9" fill="#b01e1e"/>
<circle cx="757.3" cy="455.6" r="2.9" fill="#b01e1e"/>
</g>
<rect x="342.5" y="438.5" width="415" height="78" fill="none" stroke="#000" stroke-width="1"/>
<rect x="342.5" y="525.5" width="415" height="78.5" fill="#87cefa"/>
<polygon points="342.5,526 349,527.5 355.9,526 393.7,526 405,529 412,530.5 418,526 600,526 612,527.5 625,529 637,532.7 645,528 650,526 757.5,526 757.5,604 342.5,604" fill="#575757"/>
<polygon points="342.5,526.9 349.8,530.5 358.3,537.9 368,544 376.6,544.6 386.3,547.6 392.4,550.7 401,547.6 408.3,539 418,527.5 430,528.5 480,529 560,529.5 600,529 619.5,539.6 637,543.5 648.8,537 662.4,532.7 674.1,538.6 687.8,553.2 693.7,556.1 709.3,554.2 721,547.4 736.6,533.7 748.3,526 757.5,526 757.5,604 342.5,604" fill="#444444"/>
<polygon points="342.5,527.5 349.8,532 358.3,540 368,546.5 376.6,547 386.3,550 392.4,553 401,550 408.3,541 418,528 600,531 612,541.5 623,543 637,549.3 645,545 655,541 662.4,537 674.1,541 687.8,555 693.7,558 709.3,556 721,549.4 736.6,535.7 748.3,527 757.5,526.5 757.5,604 342.5,604" fill="#353535"/>
<line x1="356.5" y1="525.5" x2="356.5" y2="604" stroke="#000" stroke-width="1" stroke-dasharray="2,2"/>
<line x1="377.5" y1="525.5" x2="377.5" y2="604" stroke="#000" stroke-width="1" stroke-dasharray="2,2"/>
<line x1="398.5" y1="525.5" x2="398.5" y2="604" stroke="#000" stroke-width="1" stroke-dasharray="2,2"/>
<line x1="419.5" y1="525.5" x2="419.5" y2="604" stroke="#000" stroke-width="1" stroke-dasharray="2,2"/>
<line x1="440.5" y1="525.5" x2="440.5" y2="604" stroke="#000" stroke-width="1" stroke-dasharray="2,2"/>
<line x1="462.5" y1="525.5" x2="462.5" y2="604" stroke="#000" stroke-width="1" stroke-dasharray="2,2"/>
<line x1="483.5" y1="525.5" x2="483.5" y2="604" stroke="#000" stroke-width="1" stroke-dasharray="2,2"/>
<line x1="504.5" y1="525.5" x2="504.5" y2="604" stroke="#000" stroke-width="1" stroke-dasharray="2,2"/>
<line x1="525.5" y1="525.5" x2="525.5" y2="604" stroke="#000" stroke-width="1" stroke-dasharray="2,2"/>
<line x1="546.5" y1="525.5" x2="546.5" y2="604" stroke="#000" stroke-width="1" stroke-dasharray="2,2"/>
<line x1="567.5" y1="525.5" x2="567.5" y2="604" stroke="#000" stroke-width="1" stroke-dasharray="2,2"/>
<line x1="588.5" y1="525.5" x2="588.5" y2="604" stroke="#000" stroke-width="1" stroke-dasharray="2,2"/>
<line x1="609.5" y1="525.5" x2="609.5" y2="604" stroke="#000" stroke-width="1" stroke-dasharray="2,2"/>
<line x1="630.5" y1="525.5" x2="630.5" y2="604" stroke="#000" stroke-width="1" stroke-dasharray="2,2"/>
<line x1="652.5" y1="525.5" x2="652.5" y2="604" stroke="#000" stroke-width="1" stroke-dasharray="2,2"/>
<line x1="673.5" y1="525.5" x2="673.5" y2="604" stroke="#000" stroke-width="1" stroke-dasharray="2,2"/>
<line x1="694.5" y1="525.5" x2="694.5" y2="604" stroke="#000" stroke-width="1" stroke-dasharray="2,2"/>
<line x1="715.5" y1="525.5" x2="715.5" y2="604" stroke="#000" stroke-width="1" stroke-dasharray="2,2"/>
<line x1="736.5" y1="525.5" x2="736.5" y2="604" stroke="#000" stroke-width="1" stroke-dasharray="2,2"/>
<line x1="342.5" y1="545.5" x2="757.5" y2="545.5" stroke="#000" stroke-width="1" stroke-dasharray="2,2"/>
<line x1="342.5" y1="565.5" x2="757.5" y2="565.5" stroke="#000" stroke-width="1" stroke-dasharray="2,2"/>
<line x1="342.5" y1="584.5" x2="757.5" y2="584.5" stroke="#000" stroke-width="1" stroke-dasharray="2,2"/>
<polyline points="342.5,598.5 350.2,583 357,568.7 362,569 369.3,531.1 376.6,535.4 385.1,528.1 392.4,526.9 396.3,533.7 403.4,562.2 410,595.1 415.1,597.7 422,599.4 428.8,601.1 440,603 687.5,603 694.6,597.8 701.6,578.4 707.8,565.1 714,568.6 722,576.2 729,567.4 737,572.7 745,572.7 757.5,578" fill="none" stroke="#a8a8a8" stroke-width="1.3" stroke-linejoin="round"/>
<polyline points="342.5,566 350.2,560 355.9,564.1 363.9,578 370.7,588.3 377.6,598.5 384.4,602 392,603 420,603 463,601 476.6,599.4 485.2,595.1 500.6,589.1 509.1,589.1 526.2,593.4 543.3,596.8 560.4,600.2 577.4,601.6 594.5,602.8 650,603 668,602.2 673.4,600.5 680.4,581.9 687.5,572.2 694.6,568.6 701.6,559.8 707.8,558 714,570.4 722,576.2 729,567.4 737,572.7 745,572.7 757.5,578" fill="none" stroke="#f0f0f0" stroke-width="1.3" stroke-linejoin="round"/>
<rect x="341.4" y="540.5" width="3.4" height="63.5" fill="#ffb400" rx="1.5"/>
<rect x="347.7" y="551.2" width="3.4" height="52.8" fill="#ffb400" rx="1.5"/>
<rect x="354.9" y="562.3" width="3.4" height="41.7" fill="#ffb400" rx="1.5"/>
<rect x="361.9" y="578" width="3.4" height="26" fill="#ffb400" rx="1.5"/>
<rect x="368.7" y="581" width="3.4" height="23" fill="#ffb400" rx="1.5"/>
<rect x="375.9" y="578" width="3.4" height="26" fill="#ffb400" rx="1.5"/>
<rect x="382.7" y="575" width="3.4" height="29" fill="#ffb400" rx="1.5"/>
<rect x="389.9" y="575" width="3.4" height="29" fill="#ffb400" rx="1.5"/>
<rect x="396.9" y="573.3" width="3.4" height="30.7" fill="#ffb400" rx="1.5"/>
<rect x="404" y="564" width="3.4" height="40" fill="#ffb400" rx="1.5"/>
<rect x="410.9" y="533.3" width="3.4" height="70.7" fill="#ffb400" rx="1.5"/>
<rect x="417.7" y="526" width="3.4" height="78" fill="#ffb400" rx="1.5"/>
<rect x="424.9" y="526" width="3.4" height="78" fill="#ffb400" rx="1.5"/>
<rect x="431.9" y="526" width="3.4" height="78" fill="#ffb400" rx="1.5"/>
<rect x="439.9" y="528.2" width="3.4" height="75.8" fill="#ffb400" rx="1.5"/>
<rect x="446.7" y="535.4" width="3.4" height="68.6" fill="#ffb400" rx="1.5"/>
<rect x="453.9" y="538" width="3.4" height="66" fill="#ffb400" rx="1.5"/>
<rect x="460.9" y="546.5" width="3.4" height="57.5" fill="#ffb400" rx="1.5"/>
<rect x="467.7" y="545.3" width="3.4" height="58.7" fill="#ffb400" rx="1.5"/>
<rect x="474.9" y="542.2" width="3.4" height="61.8" fill="#ffb400" rx="1.5"/>
<rect x="481.5" y="541.3" width="3.4" height="62.7" fill="#ffb400" rx="1.5"/>
<rect x="488.7" y="538.3" width="3.4" height="65.7" fill="#ffb400" rx="1.5"/>
<rect x="495.5" y="539.3" width="3.4" height="64.7" fill="#ffb400" rx="1.5"/>
<rect x="502.7" y="538.4" width="3.4" height="65.6" fill="#ffb400" rx="1.5"/>
<rect x="509.5" y="534.5" width="3.4" height="69.5" fill="#ffb400" rx="1.5"/>
<rect x="516.5" y="538.3" width="3.4" height="65.7" fill="#ffb400" rx="1.5"/>
<rect x="523.7" y="546.5" width="3.4" height="57.5" fill="#ffb400" rx="1.5"/>
<rect x="530.8" y="549.4" width="3.4" height="54.6" fill="#ffb400" rx="1.5"/>
<rect x="537.7" y="539.3" width="3.4" height="64.7" fill="#ffb400" rx="1.5"/>
<rect x="544.7" y="545.6" width="3.4" height="58.4" fill="#ffb400" rx="1.5"/>
<rect x="551.8" y="544.4" width="3.4" height="59.6" fill="#ffb400" rx="1.5"/>
<rect x="558.7" y="547.3" width="3.4" height="56.7" fill="#ffb400" rx="1.5"/>
<rect x="565.5" y="542.5" width="3.4" height="61.5" fill="#ffb400" rx="1.5"/>
<rect x="572.7" y="545.6" width="3.4" height="58.4" fill="#ffb400" rx="1.5"/>
<rect x="579.7" y="545.3" width="3.4" height="58.7" fill="#ffb400" rx="1.5"/>
<rect x="586.8" y="539.6" width="3.4" height="64.4" fill="#ffb400" rx="1.5"/>
<rect x="594" y="538.3" width="3.4" height="65.7" fill="#ffb400" rx="1.5"/>
<rect x="601" y="540.1" width="3.4" height="63.9" fill="#ffb400" rx="1.5"/>
<rect x="608.2" y="545.3" width="3.4" height="58.7" fill="#ffb400" rx="1.5"/>
<rect x="614.7" y="552.7" width="3.4" height="51.3" fill="#ffb400" rx="1.5"/>
<rect x="621.8" y="547.4" width="3.4" height="56.6" fill="#ffb400" rx="1.5"/>
<rect x="628.9" y="551.5" width="3.4" height="52.5" fill="#ffb400" rx="1.5"/>
<rect x="635.9" y="557.1" width="3.4" height="46.9" fill="#ffb400" rx="1.5"/>
<rect x="643" y="567.4" width="3.4" height="36.6" fill="#ffb400" rx="1.5"/>
<rect x="650.1" y="558.5" width="3.4" height="45.5" fill="#ffb400" rx="1.5"/>
<rect x="657.2" y="572.7" width="3.4" height="31.3" fill="#ffb400" rx="1.5"/>
<rect x="664.6" y="559.3" width="3.4" height="44.7" fill="#ffb400" rx="1.5"/>
<rect x="671.7" y="564.6" width="3.4" height="39.4" fill="#ffb400" rx="1.5"/>
<rect x="678.7" y="570.4" width="3.4" height="33.6" fill="#ffb400" rx="1.5"/>
<rect x="685.8" y="583.3" width="3.4" height="20.7" fill="#ffb400" rx="1.5"/>
<rect x="692.9" y="577.5" width="3.4" height="26.5" fill="#ffb400" rx="1.5"/>
<rect x="699.9" y="579.2" width="3.4" height="24.8" fill="#ffb400" rx="1.5"/>
<rect x="707" y="573" width="3.4" height="31" fill="#ffb400" rx="1.5"/>
<rect x="714.1" y="586.3" width="3.4" height="17.7" fill="#ffb400" rx="1.5"/>
<rect x="720.8" y="583.3" width="3.4" height="20.7" fill="#ffb400" rx="1.5"/>
<rect x="727.9" y="567.7" width="3.4" height="36.3" fill="#ffb400" rx="1.5"/>
<rect x="735" y="563.9" width="3.4" height="40.1" fill="#ffb400" rx="1.5"/>
<rect x="742" y="545.6" width="3.4" height="58.4" fill="#ffb400" rx="1.5"/>
<rect x="749.1" y="542.6" width="3.4" height="61.4" fill="#ffb400" rx="1.5"/>
<rect x="754.3" y="541.6" width="3.4" height="62.4" fill="#ffb400" rx="1.5"/>
<line x1="356.5" y1="525.5" x2="356.5" y2="604" stroke="#000" stroke-width="1" stroke-dasharray="2,2"/>
<line x1="377.5" y1="525.5" x2="377.5" y2="604" stroke="#000" stroke-width="1" stroke-dasharray="2,2"/>
<line x1="398.5" y1="525.5" x2="398.5" y2="604" stroke="#000" stroke-width="1" stroke-dasharray="2,2"/>
<line x1="419.5" y1="525.5" x2="419.5" y2="604" stroke="#000" stroke-width="1" stroke-dasharray="2,2"/>
<line x1="440.5" y1="525.5" x2="440.5" y2="604" stroke="#000" stroke-width="1" stroke-dasharray="2,2"/>
<line x1="462.5" y1="525.5" x2="462.5" y2="604" stroke="#000" stroke-width="1" stroke-dasharray="2,2"/>
<line x1="483.5" y1="525.5" x2="483.5" y2="604" stroke="#000" stroke-width="1" stroke-dasharray="2,2"/>
<line x1="504.5" y1="525.5" x2="504.5" y2="604" stroke="#000" stroke-width="1" stroke-dasharray="2,2"/>
<line x1="525.5" y1="525.5" x2="525.5" y2="604" stroke="#000" stroke-width="1" stroke-dasharray="2,2"/>
<line x1="546.5" y1="525.5" x2="546.5" y2="604" stroke="#000" stroke-width="1" stroke-dasharray="2,2"/>
<line x1="567.5" y1="525.5" x2="567.5" y2="604" stroke="#000" stroke-width="1" stroke-dasharray="2,2"/>
<line x1="588.5" y1="525.5" x2="588.5" y2="604" stroke="#000" stroke-width="1" stroke-dasharray="2,2"/>
<line x1="609.5" y1="525.5" x2="609.5" y2="604" stroke="#000" stroke-width="1" stroke-dasharray="2,2"/>
<line x1="630.5" y1="525.5" x2="630.5" y2="604" stroke="#000" stroke-width="1" stroke-dasharray="2,2"/>
<line x1="652.5" y1="525.5" x2="652.5" y2="604" stroke="#000" stroke-width="1" stroke-dasharray="2,2"/>
<line x1="673.5" y1="525.5" x2="673.5" y2="604" stroke="#000" stroke-width="1" stroke-dasharray="2,2"/>
<line x1="694.5" y1="525.5" x2="694.5" y2="604" stroke="#000" stroke-width="1" stroke-dasharray="2,2"/>
<line x1="715.5" y1="525.5" x2="715.5" y2="604" stroke="#000" stroke-width="1" stroke-dasharray="2,2"/>
<line x1="736.5" y1="525.5" x2="736.5" y2="604" stroke="#000" stroke-width="1" stroke-dasharray="2,2"/>
<line x1="342.5" y1="605" x2="757.5" y2="605" stroke="#87cefa" stroke-width="1"/>
<rect x="342.5" y="526" width="415" height="78.5" fill="none" stroke="#000" stroke-width="1"/>
<clipPath id="wmclip"><rect x="393.4" y="130" width="114" height="240"/></clipPath>
<g fill="#a0a0a0" fill-opacity="0.14" clip-path="url(#wmclip)">
<polygon points="393,290 392.93,314.88 398.78,332.44 407.56,345.61 419.27,353.66 430.98,357.32 444.15,357.03 455.86,354.39 469.03,348.54 480.74,339.76 490.98,329.51 498.3,319.27 507.08,307.56 504.15,298.78 489.52,311.95 480.74,320.73 471.96,326.59 461.71,332.44 451.47,335.37 441.22,337.12 430.98,336.83 420.73,333.9 411.95,328.05 404.63,321.46 398.78,314.88 398.8,290"/>
<polyline points="478,142 455,160 429,187 408,222 396,258 393,290" fill="none" stroke="#a0a0a0" stroke-width="1.2" stroke-opacity="0.13"/>
<polyline points="393,210.4 421.5,202 455,204 480,210" fill="none" stroke="#a0a0a0" stroke-width="1.2" stroke-opacity="0.1"/>
<circle cx="482" cy="209" r="14.3"/>
<rect x="467.6" y="229" width="28.6" height="79"/>
</g>
<text x="282" y="13.4" font-size="12" fill="#000096" textLength="146.5" lengthAdjust="spacingAndGlyphs">wschód słońca: 07:29 CET</text>
<text x="284.1" y="25.6" font-size="12" fill="#000096" textLength="142" lengthAdjust="spacingAndGlyphs">zachód słońca: 15:17 CET</text>
<text x="486.8" y="12.7" font-size="12" fill="#000096" textLength="127.3" lengthAdjust="spacingAndGlyphs">21°28'30"E, 53°53'34"N</text>
<text x="508.8" y="25.1" font-size="12" fill="#000096" textLength="82.4" lengthAdjust="spacingAndGlyphs">(x=257,  y=358)</text>
<text x="659.8" y="12.1" font-size="12" fill="#000096" textLength="156.9" lengthAdjust="spacingAndGlyphs">wysokość (min, środek, max)</text>
<text x="690.5" y="24.8" font-size="12" fill="#000096" textLength="95.5" lengthAdjust="spacingAndGlyphs">128 - 151 - 178 m</text>
<text x="347.6" y="42" font-size="12" fill="#000" textLength="59.4" lengthAdjust="spacingAndGlyphs">pon, 01.12</text>
<text x="516.1" y="41.5" font-size="12" fill="#000" textLength="59.8" lengthAdjust="spacingAndGlyphs">wto, 02.12</text>
<text x="686.5" y="41.7" font-size="12" fill="#000" textLength="56.7" lengthAdjust="spacingAndGlyphs">śro, 03.12</text>
<text x="306.6" y="54.9" font-size="12" fill="#000" textLength="23.2" lengthAdjust="spacingAndGlyphs">CET</text>
<text x="769.5" y="54.2" font-size="12" fill="#000" textLength="24.1" lengthAdjust="spacingAndGlyphs">CET</text>
<text x="350.1" y="54.9" font-size="12" fill="#000" textLength="13.4" lengthAdjust="spacingAndGlyphs">10</text>
<text x="392.32" y="54.9" font-size="12" fill="#000" textLength="13.4" lengthAdjust="spacingAndGlyphs">16</text>
<text x="434.54" y="54.9" font-size="12" fill="#000" textLength="13.4" lengthAdjust="spacingAndGlyphs">22</text>
<text x="476.77" y="54.9" font-size="12" fill="#000" textLength="13.4" lengthAdjust="spacingAndGlyphs">04</text>
<text x="518.99" y="54.9" font-size="12" fill="#000" textLength="13.4" lengthAdjust="spacingAndGlyphs">10</text>
<text x="561.21" y="54.9" font-size="12" fill="#000" textLength="13.4" lengthAdjust="spacingAndGlyphs">16</text>
<text x="603.43" y="54.9" font-size="12" fill="#000" textLength="13.4" lengthAdjust="spacingAndGlyphs">22</text>
<text x="645.65" y="54.9" font-size="12" fill="#000" textLength="13.4" lengthAdjust="spacingAndGlyphs">04</text>
<text x="687.88" y="54.9" font-size="12" fill="#000" textLength="13.4" lengthAdjust="spacingAndGlyphs">10</text>
<text x="730.1" y="54.9" font-size="12" fill="#000" textLength="13.4" lengthAdjust="spacingAndGlyphs">16</text>
<text x="349.8" y="616.6" font-size="12" fill="#000" textLength="13.4" lengthAdjust="spacingAndGlyphs">09</text>
<text x="392.02" y="616.6" font-size="12" fill="#000" textLength="13.4" lengthAdjust="spacingAndGlyphs">15</text>
<text x="434.24" y="616.6" font-size="12" fill="#000" textLength="13.4" lengthAdjust="spacingAndGlyphs">21</text>
<text x="476.47" y="616.6" font-size="12" fill="#000" textLength="13.4" lengthAdjust="spacingAndGlyphs">03</text>
<text x="518.69" y="616.6" font-size="12" fill="#000" textLength="13.4" lengthAdjust="spacingAndGlyphs">09</text>
<text x="560.91" y="616.6" font-size="12" fill="#000" textLength="13.4" lengthAdjust="spacingAndGlyphs">15</text>
<text x="603.13" y="616.6" font-size="12" fill="#000" textLength="13.4" lengthAdjust="spacingAndGlyphs">21</text>
<text x="645.35" y="616.6" font-size="12" fill="#000" textLength="13.4" lengthAdjust="spacingAndGlyphs">03</text>
<text x="687.58" y="616.6" font-size="12" fill="#000" textLength="13.4" lengthAdjust="spacingAndGlyphs">09</text>
<text x="729.8" y="616.6" font-size="12" fill="#000" textLength="13.4" lengthAdjust="spacingAndGlyphs">15</text>
<text x="361.61" y="629.4" font-size="12" fill="#000" textLength="31.3" lengthAdjust="spacingAndGlyphs">01.12</text>
<text x="530.5" y="629.4" font-size="12" fill="#000" textLength="31.3" lengthAdjust="spacingAndGlyphs">02.12</text>
<text x="699.39" y="629.4" font-size="12" fill="#000" textLength="31.3" lengthAdjust="spacingAndGlyphs">03.12</text>
<text x="306.7" y="616.7" font-size="12" fill="#000" textLength="23.3" lengthAdjust="spacingAndGlyphs">UTC</text>
<text x="769.3" y="616.8" font-size="12" fill="#000" textLength="24" lengthAdjust="spacingAndGlyphs">UTC</text>
<text x="300.3" y="653" font-size="13" fill="#000096" textLength="108.7" lengthAdjust="spacingAndGlyphs">meteo@icm.edu.pl</text>
<text x="553.7" y="653.6" font-size="13" fill="#000096" textLength="251.8" lengthAdjust="spacingAndGlyphs">© 2007-2025 ICM, Uniwersytet Warszawski</text>
<text x="337.2" y="68" font-size="10.8" fill="#000" text-anchor="end">4</text>
<text x="337.2" y="85.3" font-size="10.8" fill="#000" text-anchor="end">2</text>
<text x="337.2" y="102.3" font-size="10.8" fill="#000" text-anchor="end">0</text>
<text x="337.2" y="120" font-size="10.8" fill="#000" text-anchor="end">-2</text>
<text x="337.2" y="137.3" font-size="10.8" fill="#000" text-anchor="end">-4</text>
<text x="337.2" y="150.8" font-size="10.8" fill="#000" text-anchor="end">5</text>
<text x="337.2" y="165.75" font-size="10.8" fill="#000" text-anchor="end">4</text>
<text x="337.2" y="180.7" font-size="10.8" fill="#000" text-anchor="end">3</text>
<text x="337.2" y="195.65" font-size="10.8" fill="#000" text-anchor="end">2</text>
<text x="337.2" y="210.6" font-size="10.8" fill="#000" text-anchor="end">1</text>
<text x="337.2" y="225.55" font-size="10.8" fill="#000" text-anchor="end">0</text>
<text x="337.2" y="234.7" font-size="10.8" fill="#000" text-anchor="end">1025</text>
<text x="337.2" y="255" font-size="10.8" fill="#000" text-anchor="end">1020</text>
<text x="337.2" y="275.3" font-size="10.8" fill="#000" text-anchor="end">1015</text>
<text x="337.2" y="295.8" font-size="10.8" fill="#000" text-anchor="end">1010</text>
<text x="337.2" y="322.5" font-size="10.8" fill="#000" text-anchor="end">15</text>
<text x="337.2" y="347.5" font-size="10.8" fill="#000" text-anchor="end">10</text>
<text x="337.2" y="373.7" font-size="10.8" fill="#000" text-anchor="end">5</text>
<text x="337.2" y="398.3" font-size="10.8" fill="#000" text-anchor="end">0</text>
<text x="337.2" y="441.7" font-size="10.8" fill="#000" text-anchor="end">15.0</text>
<text x="337.2" y="461.7" font-size="10.8" fill="#000" text-anchor="end">7.0</text>
<text x="337.2" y="480.8" font-size="10.8" fill="#000" text-anchor="end">2.0</text>
<text x="337.2" y="500.8" font-size="10.8" fill="#000" text-anchor="end">0.5</text>
<text x="337.2" y="519.7" font-size="10.8" fill="#000" text-anchor="end">0.0</text>
<text x="337.2" y="529.7" font-size="10.8" fill="#000" text-anchor="end">8</text>
<text x="337.2" y="549.2" font-size="10.8" fill="#000" text-anchor="end">6</text>
<text x="337.2" y="568.3" font-size="10.8" fill="#000" text-anchor="end">4</text>
<text x="337.2" y="587.5" font-size="10.8" fill="#000" text-anchor="end">2</text>
<text x="337.2" y="607.5" font-size="10.8" fill="#000" text-anchor="end">0</text>
<text x="771.2" y="68" font-size="10.8" fill="#000" text-anchor="end">4</text>
<text x="771.2" y="85.3" font-size="10.8" fill="#000" text-anchor="end">2</text>
<text x="771.2" y="102.3" font-size="10.8" fill="#000" text-anchor="end">0</text>
<text x="771.2" y="120" font-size="10.8" fill="#000" text-anchor="end">-2</text>
<text x="771.2" y="137.3" font-size="10.8" fill="#000" text-anchor="end">-4</text>
<text x="770.5" y="150.3" font-size="10.8" fill="#e8501a" text-anchor="middle">100</text>
<text x="770.5" y="165.25" font-size="10.8" fill="#e8501a" text-anchor="middle">95</text>
<text x="770.5" y="180.2" font-size="10.8" fill="#e8501a" text-anchor="middle">90</text>
<text x="770.5" y="195.15" font-size="10.8" fill="#e8501a" text-anchor="middle">85</text>
<text x="770.5" y="210.1" font-size="10.8" fill="#e8501a" text-anchor="middle">80</text>
<text x="770.5" y="225.05" font-size="10.8" fill="#e8501a" text-anchor="middle">75</text>
<text x="761.6" y="234.2" font-size="10.8" fill="#000">769</text>
<text x="761.6" y="254.2" font-size="10.8" fill="#000">765</text>
<text x="761.6" y="275" font-size="10.8" fill="#000">761</text>
<text x="761.6" y="295.8" font-size="10.8" fill="#000">758</text>
<text x="767.3" y="323" font-size="10.8" fill="#000" text-anchor="middle">54</text>
<text x="767.3" y="348" font-size="10.8" fill="#000" text-anchor="middle">36</text>
<text x="767.3" y="373.8" font-size="10.8" fill="#000" text-anchor="middle">18</text>
<text x="767.3" y="398.3" font-size="10.8" fill="#000" text-anchor="middle">0</text>
<text x="761.6" y="441.7" font-size="10.8" fill="#ff8000">100</text>
<text x="761.6" y="461.3" font-size="10.8" fill="#ff8000">20</text>
<text x="761.6" y="480.5" font-size="10.8" fill="#ff8000">5</text>
<text x="761.6" y="500.3" font-size="10.8" fill="#ff8000">1</text>
<text x="761.6" y="519.2" font-size="10.8" fill="#ff8000">0</text>
<text x="761.6" y="529.7" font-size="10.8" fill="#ff8000">1</text>
<text x="761.6" y="548.7" font-size="10.8" fill="#ff8000">0.75</text>
<text x="761.6" y="568.3" font-size="10.8" fill="#ff8000">0.5</text>
<text x="761.6" y="587.5" font-size="10.8" fill="#ff8000">0.25</text>
<text x="761.6" y="606.7" font-size="10.8" fill="#ff8000">0</text>
<text x="293.6" y="129.9" font-size="12.8" fill="#000096" textLength="66.3" lengthAdjust="spacingAndGlyphs" transform="rotate(-90 293.6 129.9)">temperatura</text>
<text x="305" y="106.7" font-size="12.8" fill="#000096" textLength="20.5" lengthAdjust="spacingAndGlyphs" transform="rotate(-90 305 106.7)">(°C)</text>
<text x="293.6" y="197.6" font-size="12.8" fill="#000096" textLength="25.9" lengthAdjust="spacingAndGlyphs" transform="rotate(-90 293.6 197.6)">opad</text>
<text x="305" y="227.1" font-size="12.8" fill="#000096" textLength="84.2" lengthAdjust="spacingAndGlyphs" transform="rotate(-90 305 227.1)">(mm/h, kg/m²/h)</text>
<text x="293.6" y="296.7" font-size="12.8" fill="#000096" textLength="48.4" lengthAdjust="spacingAndGlyphs" transform="rotate(-90 293.6 296.7)">ciśnienie</text>
<text x="305" y="287.5" font-size="12.8" fill="#000096" textLength="29.2" lengthAdjust="spacingAndGlyphs" transform="rotate(-90 305 287.5)">(hPa)</text>
<text x="293.6" y="374.2" font-size="12.8" fill="#000096" textLength="26.7" lengthAdjust="spacingAndGlyphs" transform="rotate(-90 293.6 374.2)">wiatr</text>
<text x="305" y="375" font-size="12.8" fill="#000096" textLength="28.3" lengthAdjust="spacingAndGlyphs" transform="rotate(-90 305 375)">(m/s)</text>
<text x="293.6" y="610" font-size="12.8" fill="#000096" textLength="75.8" lengthAdjust="spacingAndGlyphs" transform="rotate(-90 293.6 610)">zachmurzenie</text>
<text x="293.6" y="525.8" font-size="12.8" fill="#000096" textLength="105" lengthAdjust="spacingAndGlyphs" transform="rotate(-90 293.6 525.8)">pion. rozciągł. chm.</text>
<text x="305" y="485.8" font-size="12.8" fill="#000096" textLength="22.8" lengthAdjust="spacingAndGlyphs" transform="rotate(-90 305 485.8)">(km)</text>
<text x="305" y="585" font-size="12.8" fill="#000096" textLength="45" lengthAdjust="spacingAndGlyphs" transform="rotate(-90 305 585)">(oktanty)</text>
<text x="816" y="129.6" font-size="12.8" fill="#000096" textLength="66.2" lengthAdjust="spacingAndGlyphs" transform="rotate(-90 816 129.6)">temperatura</text>
<text x="802.3" y="106.5" font-size="12.8" fill="#000096" textLength="20.6" lengthAdjust="spacingAndGlyphs" transform="rotate(-90 802.3 106.5)">(°C)</text>
<text x="816" y="228.5" font-size="12.8" fill="#000096" textLength="87.9" lengthAdjust="spacingAndGlyphs" transform="rotate(-90 816 228.5)">wilgotność wzgl.</text>
<text x="802.3" y="193.6" font-size="12.8" fill="#000096" textLength="16.6" lengthAdjust="spacingAndGlyphs" transform="rotate(-90 802.3 193.6)">(%)</text>
<text x="816" y="296.7" font-size="12.8" fill="#000096" textLength="47.5" lengthAdjust="spacingAndGlyphs" transform="rotate(-90 816 296.7)">ciśnienie</text>
<text x="802.3" y="296.7" font-size="12.8" fill="#000096" textLength="46.7" lengthAdjust="spacingAndGlyphs" transform="rotate(-90 802.3 296.7)">(mm Hg)</text>
<text x="816" y="373.3" font-size="12.8" fill="#000096" textLength="25" lengthAdjust="spacingAndGlyphs" transform="rotate(-90 816 373.3)">wiatr</text>
<text x="802.3" y="377.5" font-size="12.8" fill="#000096" textLength="32.5" lengthAdjust="spacingAndGlyphs" transform="rotate(-90 802.3 377.5)">(km/h)</text>
<text x="816" y="506.7" font-size="12.8" fill="#000096" textLength="63.4" lengthAdjust="spacingAndGlyphs" transform="rotate(-90 816 506.7)">widzialność</text>
<text x="802.3" y="485.8" font-size="12.8" fill="#000096" textLength="23.3" lengthAdjust="spacingAndGlyphs" transform="rotate(-90 802.3 485.8)">(km)</text>
<text x="816" y="575.8" font-size="12.8" fill="#000096" textLength="25.8" lengthAdjust="spacingAndGlyphs" transform="rotate(-90 816 575.8)">mgła</text>
<text x="802.3" y="584.2" font-size="12.8" fill="#000096" textLength="43.4" lengthAdjust="spacingAndGlyphs" transform="rotate(-90 802.3 584.2)">(frakcja)</text>
<text x="803.6" y="410.9" font-size="10.8" fill="#00008c">N</text>
<text x="792.8" y="419.6" font-size="10.8" fill="#00008c">W</text>
<text x="810" y="419.6" font-size="10.8" fill="#00008c">E</text>
<text x="803.9" y="427.6" font-size="10.8" fill="#00008c">S</text>
<text x="294.6" y="410.9" font-size="10.8" fill="#00008c">N</text>
<text x="283.8" y="419.6" font-size="10.8" fill="#00008c">W</text>
<text x="301" y="419.6" font-size="10.8" fill="#00008c">E</text>
<text x="294.9" y="427.6" font-size="10.8" fill="#00008c">S</text>
<rect x="135.5" y="57.5" width="110" height="76.5" fill="#ffffff"/>
<rect x="135.5" y="111.8" width="110" height="22.2" fill="#87cefa"/>
<polygon points="135.6,103.49 142.07,104.21 149.27,106.37 156.46,108.96 163.66,111.4 170.85,112.84 178.05,114.28 185.25,115 192.44,117.16 199.64,118.6 206.83,119.32 212.59,120.04 218.34,117.16 225.54,120.04 232.73,123.64 239.93,117.88 245.69,116.15 245.69,122.64 232.73,131.27 218.34,129.11 203.95,126.95 170.85,116.88 135.6,112.56" fill="#bfe6ff"/>
<polygon points="135.6,88.1 156.46,93.13 170.85,102.49 185.25,106.09 206.83,109.68 229.86,110.4 245.69,106.52 245.69,117.55 239.93,120.72 232.73,125.04 226.98,122.16 218.34,121.44 206.83,120 192.44,120 185.25,119.28 178.05,118.56 170.85,116.4 163.66,112.81 156.46,109.93 149.27,107.05 142.07,104.89 135.6,104.89" fill="#ffe6dc"/>
<rect x="170" y="57.5" width="61.6" height="76.5" fill="#055cd9" fill-opacity="0.08"/>
<line x1="142.5" y1="57.5" x2="142.5" y2="134" stroke="#000" stroke-width="1" stroke-dasharray="2,2"/>
<line x1="163.5" y1="57.5" x2="163.5" y2="134" stroke="#000" stroke-width="1" stroke-dasharray="2,2"/>
<line x1="184.5" y1="57.5" x2="184.5" y2="134" stroke="#000" stroke-width="1" stroke-dasharray="2,2"/>
<line x1="205.5" y1="57.5" x2="205.5" y2="134" stroke="#000" stroke-width="1" stroke-dasharray="2,2"/>
<line x1="226.5" y1="57.5" x2="226.5" y2="134" stroke="#000" stroke-width="1" stroke-dasharray="2,2"/>
<line x1="135.5" y1="59.5" x2="245.5" y2="59.5" stroke="#000" stroke-width="1" stroke-dasharray="2,2"/>
<line x1="135.5" y1="77.5" x2="245.5" y2="77.5" stroke="#000" stroke-width="1" stroke-dasharray="2,2"/>
<line x1="135.5" y1="94.5" x2="245.5" y2="94.5" stroke="#000" stroke-width="1" stroke-dasharray="2,2"/>
<line x1="135.5" y1="111.5" x2="245.5" y2="111.5" stroke="#000" stroke-width="1" stroke-dasharray="2,2"/>
<line x1="135.5" y1="129.5" x2="245.5" y2="129.5" stroke="#000" stroke-width="1" stroke-dasharray="2,2"/>
<line x1="142.36" y1="69.39" x2="142.36" y2="98.89" stroke="#a01818" stroke-width="1.3"/>
<line x1="149.56" y1="78.02" x2="149.56" y2="96.73" stroke="#a01818" stroke-width="1.3"/>
<line x1="156.46" y1="87.38" x2="156.46" y2="99.61" stroke="#a01818" stroke-width="1.3"/>
<line x1="163.37" y1="96.73" x2="163.37" y2="106.81" stroke="#a01818" stroke-width="1.3"/>
<line x1="170.57" y1="101.05" x2="170.57" y2="114" stroke="#a01818" stroke-width="1.3"/>
<line x1="177.76" y1="103.21" x2="177.76" y2="118.32" stroke="#a01818" stroke-width="1.3"/>
<line x1="184.53" y1="105.37" x2="184.53" y2="120.48" stroke="#a01818" stroke-width="1.3"/>
<line x1="191.29" y1="107.09" x2="191.29" y2="123.36" stroke="#a01818" stroke-width="1.3"/>
<line x1="198.48" y1="108.25" x2="198.48" y2="125.51" stroke="#a01818" stroke-width="1.3"/>
<line x1="205.39" y1="109.68" x2="205.39" y2="127.67" stroke="#a01818" stroke-width="1.3"/>
<line x1="212.59" y1="109.68" x2="212.59" y2="129.83" stroke="#a01818" stroke-width="1.3"/>
<line x1="219.49" y1="110.4" x2="219.49" y2="130.55" stroke="#a01818" stroke-width="1.3"/>
<line x1="226.26" y1="111.12" x2="226.26" y2="132.71" stroke="#a01818" stroke-width="1.3"/>
<line x1="233.45" y1="111.12" x2="233.45" y2="131.99" stroke="#a01818" stroke-width="1.3"/>
<line x1="240.22" y1="106.09" x2="240.22" y2="120.48" stroke="#a01818" stroke-width="1.3"/>
<rect x="135.7" y="111.9" width="2.6" height="2.6" fill="#6a5acd"/>
<rect x="142.4" y="111.9" width="2.6" height="2.6" fill="#6a5acd"/>
<rect x="148.5" y="111.9" width="2.6" height="2.6" fill="#6a5acd"/>
<rect x="155.2" y="113.8" width="2.6" height="2.6" fill="#6a5acd"/>
<rect x="162.2" y="113.8" width="2.6" height="2.6" fill="#6a5acd"/>
<rect x="168.9" y="111.9" width="2.6" height="2.6" fill="#6a5acd"/>
<rect x="176.3" y="112.5" width="2.6" height="2.6" fill="#6a5acd"/>
<rect x="183.2" y="112.8" width="2.6" height="2.6" fill="#6a5acd"/>
<rect x="190" y="114.7" width="2.6" height="2.6" fill="#6a5acd"/>
<rect x="197.3" y="116.1" width="2.6" height="2.6" fill="#6a5acd"/>
<rect x="203.7" y="116.5" width="2.6" height="2.6" fill="#6a5acd"/>
<rect x="211" y="117.4" width="2.6" height="2.6" fill="#6a5acd"/>
<rect x="218.3" y="118.3" width="2.6" height="2.6" fill="#6a5acd"/>
<rect x="224.7" y="118.3" width="2.6" height="2.6" fill="#6a5acd"/>
<rect x="232" y="120.2" width="2.6" height="2.6" fill="#6a5acd"/>
<rect x="239.4" y="117.4" width="2.6" height="2.6" fill="#6a5acd"/>
<polyline points="135.6,98.89 142.07,98.89 149.27,101.05 156.46,103.93 163.66,106.81 170.85,110.4 178.05,112.56 185.25,113.28 192.44,114 206.83,114 218.34,115.44 226.98,116.16 232.73,119.04 239.93,114.72 245.69,111.55" fill="none" stroke="#ff0000" stroke-width="2.2" stroke-linejoin="round"/>
<polyline points="135.6,102.49 142.07,103.21 149.27,105.37 156.46,107.96 163.66,110.4 170.85,111.84 178.05,113.28 185.25,114 192.44,116.16 199.64,117.6 206.83,118.32 212.59,119.04 218.34,116.16 225.54,119.04 232.73,122.64 239.93,116.88 245.69,115.15" fill="none" stroke="#0000ff" stroke-width="2.1" stroke-linejoin="round"/>
<rect x="135.5" y="57.5" width="110" height="76.5" fill="none" stroke="#000" stroke-width="1"/>
<rect x="135.5" y="143.5" width="110" height="76.5" fill="#ffffff"/>
<rect x="170" y="143.5" width="61.6" height="76.5" fill="#055cd9" fill-opacity="0.08"/>
<polygon points="135.6,187 143.9,187 143.9,181 157,181 157,179.5 164,179.5 164,206.8 170,206.8 170,218.5 176.5,218.5 176.5,220 135.6,220" fill="#00a000"/>
<rect x="157" y="182" width="7" height="19.3" fill="#1530d0"/>
<rect x="164" y="205" width="6" height="3" fill="#1530d0"/>
<line x1="142.5" y1="143.5" x2="142.5" y2="220" stroke="#000" stroke-width="1" stroke-dasharray="2,2"/>
<line x1="163.5" y1="143.5" x2="163.5" y2="220" stroke="#000" stroke-width="1" stroke-dasharray="2,2"/>
<line x1="184.5" y1="143.5" x2="184.5" y2="220" stroke="#000" stroke-width="1" stroke-dasharray="2,2"/>
<line x1="205.5" y1="143.5" x2="205.5" y2="220" stroke="#000" stroke-width="1" stroke-dasharray="2,2"/>
<line x1="226.5" y1="143.5" x2="226.5" y2="220" stroke="#000" stroke-width="1" stroke-dasharray="2,2"/>
<line x1="135.5" y1="150.5" x2="245.5" y2="150.5" stroke="#000" stroke-width="1" stroke-dasharray="2,2"/>
<line x1="135.5" y1="168" x2="245.5" y2="168" stroke="#000" stroke-width="1" stroke-dasharray="2,2"/>
<line x1="135.5" y1="185" x2="245.5" y2="185" stroke="#000" stroke-width="1" stroke-dasharray="2,2"/>
<line x1="135.5" y1="202.5" x2="245.5" y2="202.5" stroke="#000" stroke-width="1" stroke-dasharray="2,2"/>
<line x1="135.5" y1="219.5" x2="245.5" y2="219.5" stroke="#000" stroke-width="1" stroke-dasharray="2,2"/>
<line x1="139" y1="165" x2="139" y2="187" stroke="#00c000" stroke-width="1.4"/>
<line x1="146" y1="147.6" x2="146" y2="181" stroke="#00c000" stroke-width="1.4"/>
<line x1="153.3" y1="147.6" x2="153.3" y2="179.5" stroke="#00c000" stroke-width="1.4"/>
<rect x="144.6" y="145.8" width="2.8" height="2.8" fill="#ff0000"/>
<rect x="151.9" y="145.8" width="2.8" height="2.8" fill="#ff0000"/>
<polyline points="135.6,172.5 138.4,170.6 146.1,160.7 154.9,155.2 165.8,152.4 184.5,152.4 190,149.8 196.6,149.3 209.7,155.7 225.1,149.8 236.1,153 245,164" fill="none" stroke="#e2541e" stroke-width="2.2" stroke-linejoin="round"/>
<circle cx="139" cy="173.2" r="2.6" fill="#ffe000" stroke="#555" stroke-width="0.7"/>
<circle cx="146" cy="173.2" r="2.6" fill="#ffa000" stroke="#555" stroke-width="0.7"/>
<circle cx="153.3" cy="173.2" r="2.6" fill="#ff2000" stroke="#555" stroke-width="0.7"/>
<rect x="140" y="219" width="2" height="1.5" fill="#ff0000"/>
<rect x="147" y="219" width="2" height="1.5" fill="#ff0000"/>
<rect x="154" y="219" width="2" height="1.5" fill="#ff0000"/>
<rect x="161" y="219" width="2" height="1.5" fill="#ff0000"/>
<rect x="135.5" y="143.5" width="110" height="76.5" fill="none" stroke="#000" stroke-width="1"/>
<rect x="135.5" y="229.5" width="110" height="77" fill="#ffffff"/>
<rect x="170" y="229.5" width="61.6" height="77" fill="#055cd9" fill-opacity="0.08"/>
<polygon points="135.6,261.3 142.8,260.6 150.5,252.9 158.2,249 164.7,248.5 170.2,245.2 176.8,247.4 184.5,249.6 191.1,253.4 225.1,254 245,265 245.5,306.5 135.5,306.5" fill="#ffff00"/>
<clipPath id="plclip"><polygon points="135.6,261.3 142.8,260.6 150.5,252.9 158.2,249 164.7,248.5 170.2,245.2 176.8,247.4 184.5,249.6 191.1,253.4 225.1,254 245,265 245.5,306.5 135.5,306.5"/></clipPath>
<rect x="164.7" y="240" width="5.1" height="66.5" fill="#ffdc00" clip-path="url(#plclip)"/>
<line x1="142.5" y1="229.5" x2="142.5" y2="306.5" stroke="#000" stroke-width="1" stroke-dasharray="2,2"/>
<line x1="163.5" y1="229.5" x2="163.5" y2="306.5" stroke="#000" stroke-width="1" stroke-dasharray="2,2"/>
<line x1="184.5" y1="229.5" x2="184.5" y2="306.5" stroke="#000" stroke-width="1" stroke-dasharray="2,2"/>
<line x1="205.5" y1="229.5" x2="205.5" y2="306.5" stroke="#000" stroke-width="1" stroke-dasharray="2,2"/>
<line x1="226.5" y1="229.5" x2="226.5" y2="306.5" stroke="#000" stroke-width="1" stroke-dasharray="2,2"/>
<line x1="135.5" y1="231.5" x2="245.5" y2="231.5" stroke="#000" stroke-width="1" stroke-dasharray="2,2"/>
<line x1="135.5" y1="254.5" x2="245.5" y2="254.5" stroke="#000" stroke-width="1" stroke-dasharray="2,2"/>
<line x1="135.5" y1="278.5" x2="245.5" y2="278.5" stroke="#000" stroke-width="1" stroke-dasharray="2,2"/>
<line x1="135.5" y1="302.5" x2="245.5" y2="302.5" stroke="#000" stroke-width="1" stroke-dasharray="2,2"/>
<polyline points="135.6,261.3 142.8,260.6 150.5,252.9 158.2,249 164.7,248.5 170.2,245.2 176.8,247.4 184.5,249.6 191.1,253.4 225.1,254 245,265" fill="none" stroke="#000" stroke-width="2.4" stroke-linejoin="round"/>
<rect x="135.5" y="229.5" width="110" height="77" fill="none" stroke="#000" stroke-width="1"/>
<rect x="135.5" y="314.5" width="110" height="78" fill="#ffffff"/>
<rect x="170" y="314.5" width="61.6" height="78" fill="#055cd9" fill-opacity="0.08"/>
<clipPath id="wlclip"><polygon points="135.6,364.4 143.9,368.2 157.1,371.5 170.2,374.1 184.5,374.7 196.6,373.2 225.1,372.1 233.9,370.4 245.5,369.3 245.5,392.5 135.5,392.5"/></clipPath>
<g clip-path="url(#wlclip)">
<rect x="135.5" y="314.5" width="12.8" height="78" fill="#00c800"/>
<rect x="148.3" y="314.5" width="20.8" height="78" fill="#008200"/>
<rect x="169.1" y="314.5" width="27.5" height="78" fill="#004a8c"/>
<rect x="196.6" y="314.5" width="14.2" height="78" fill="#008200"/>
<rect x="210.8" y="314.5" width="14.3" height="78" fill="#004a8c"/>
<rect x="225.1" y="314.5" width="13.2" height="78" fill="#008200"/>
<rect x="238.3" y="314.5" width="7.2" height="78" fill="#00c800"/>
</g>
<line x1="142.5" y1="314.5" x2="142.5" y2="392.5" stroke="#000" stroke-width="1" stroke-dasharray="2,2"/>
<line x1="163.5" y1="314.5" x2="163.5" y2="392.5" stroke="#000" stroke-width="1" stroke-dasharray="2,2"/>
<line x1="184.5" y1="314.5" x2="184.5" y2="392.5" stroke="#000" stroke-width="1" stroke-dasharray="2,2"/>
<line x1="205.5" y1="314.5" x2="205.5" y2="392.5" stroke="#000" stroke-width="1" stroke-dasharray="2,2"/>
<line x1="226.5" y1="314.5" x2="226.5" y2="392.5" stroke="#000" stroke-width="1" stroke-dasharray="2,2"/>
<line x1="135.5" y1="334.5" x2="245.5" y2="334.5" stroke="#000" stroke-width="1" stroke-dasharray="2,2"/>
<line x1="135.5" y1="354.5" x2="245.5" y2="354.5" stroke="#000" stroke-width="1" stroke-dasharray="2,2"/>
<line x1="135.5" y1="373.5" x2="245.5" y2="373.5" stroke="#000" stroke-width="1" stroke-dasharray="2,2"/>
<line x1="148" y1="348.5" x2="161.5" y2="348.5" stroke="#ff0000" stroke-width="1"/>
<line x1="161.5" y1="351.5" x2="170" y2="351.5" stroke="#ff0000" stroke-width="1"/>
<line x1="169" y1="355.5" x2="176" y2="355.5" stroke="#ff0000" stroke-width="1"/>
<line x1="176" y1="358.5" x2="184.5" y2="358.5" stroke="#ff0000" stroke-width="1"/>
<line x1="184.5" y1="355.5" x2="190" y2="355.5" stroke="#ff0000" stroke-width="1"/>
<line x1="190" y1="351.5" x2="196.6" y2="351.5" stroke="#ff0000" stroke-width="1"/>
<line x1="196.6" y1="350.5" x2="212" y2="350.5" stroke="#ff0000" stroke-width="1"/>
<line x1="212" y1="351.5" x2="225" y2="351.5" stroke="#ff0000" stroke-width="1"/>
<line x1="225" y1="348.5" x2="232" y2="348.5" stroke="#ff0000" stroke-width="1"/>
<line x1="232" y1="343.5" x2="238.3" y2="343.5" stroke="#ff0000" stroke-width="1"/>
<line x1="238.3" y1="342.5" x2="245" y2="342.5" stroke="#ff0000" stroke-width="1"/>
<polyline points="135.6,364.4 143.9,368.2 157.1,371.5 170.2,374.1 184.5,374.7 196.6,373.2 225.1,372.1 233.9,370.4 245.5,369.3" fill="none" stroke="#0000a0" stroke-width="2.4" stroke-linejoin="round"/>
<rect x="135.5" y="314.5" width="110" height="78" fill="none" stroke="#000" stroke-width="1"/>
<rect x="135.5" y="398.5" width="110" height="31" fill="#ffffff"/>
<rect x="170" y="398.5" width="61.6" height="31" fill="#055cd9" fill-opacity="0.08"/>
<line x1="142.5" y1="398.5" x2="142.5" y2="429.5" stroke="#000" stroke-width="1" stroke-dasharray="2,2"/>
<line x1="163.5" y1="398.5" x2="163.5" y2="429.5" stroke="#000" stroke-width="1" stroke-dasharray="2,2"/>
<line x1="184.5" y1="398.5" x2="184.5" y2="429.5" stroke="#000" stroke-width="1" stroke-dasharray="2,2"/>
<line x1="205.5" y1="398.5" x2="205.5" y2="429.5" stroke="#000" stroke-width="1" stroke-dasharray="2,2"/>
<line x1="226.5" y1="398.5" x2="226.5" y2="429.5" stroke="#000" stroke-width="1" stroke-dasharray="2,2"/>
<line x1="139.51" y1="405.55" x2="143.54" y2="416.86" stroke="#0a0aa0" stroke-width="1.3"/>
<polygon points="145.89,423.45 140.34,418 146.74,415.71" fill="#0a0aa0"/>
<line x1="146.59" y1="405.55" x2="150.62" y2="416.86" stroke="#0a0aa0" stroke-width="1.3"/>
<polygon points="152.97,423.45 147.42,418 153.82,415.71" fill="#0a0aa0"/>
<line x1="153.67" y1="405.55" x2="157.7" y2="416.86" stroke="#0a0aa0" stroke-width="1.3"/>
<polygon points="160.05,423.45 154.5,418 160.9,415.71" fill="#0a0aa0"/>
<line x1="160.75" y1="405.55" x2="164.78" y2="416.86" stroke="#0a0aa0" stroke-width="1.3"/>
<polygon points="167.13,423.45 161.58,418 167.98,415.71" fill="#0a0aa0"/>
<line x1="167.83" y1="405.55" x2="171.86" y2="416.86" stroke="#0a0aa0" stroke-width="1.3"/>
<polygon points="174.21,423.45 168.66,418 175.06,415.71" fill="#0a0aa0"/>
<line x1="174.91" y1="405.55" x2="178.94" y2="416.86" stroke="#0a0aa0" stroke-width="1.3"/>
<polygon points="181.29,423.45 175.74,418 182.14,415.71" fill="#0a0aa0"/>
<line x1="181.99" y1="405.55" x2="186.02" y2="416.86" stroke="#0a0aa0" stroke-width="1.3"/>
<polygon points="188.37,423.45 182.82,418 189.22,415.71" fill="#0a0aa0"/>
<line x1="189.07" y1="405.55" x2="193.1" y2="416.86" stroke="#0a0aa0" stroke-width="1.3"/>
<polygon points="195.45,423.45 189.9,418 196.3,415.71" fill="#0a0aa0"/>
<line x1="196.15" y1="405.55" x2="200.18" y2="416.86" stroke="#0a0aa0" stroke-width="1.3"/>
<polygon points="202.53,423.45 196.98,418 203.38,415.71" fill="#0a0aa0"/>
<line x1="203.23" y1="405.55" x2="207.26" y2="416.86" stroke="#0a0aa0" stroke-width="1.3"/>
<polygon points="209.61,423.45 204.06,418 210.46,415.71" fill="#0a0aa0"/>
<line x1="210.31" y1="405.55" x2="214.34" y2="416.86" stroke="#0a0aa0" stroke-width="1.3"/>
<polygon points="216.69,423.45 211.14,418 217.54,415.71" fill="#0a0aa0"/>
<line x1="217.39" y1="405.55" x2="221.42" y2="416.86" stroke="#0a0aa0" stroke-width="1.3"/>
<polygon points="223.77,423.45 218.22,418 224.62,415.71" fill="#0a0aa0"/>
<line x1="224.47" y1="405.55" x2="228.5" y2="416.86" stroke="#0a0aa0" stroke-width="1.3"/>
<polygon points="230.85,423.45 225.3,418 231.7,415.71" fill="#0a0aa0"/>
<line x1="231.55" y1="405.55" x2="235.58" y2="416.86" stroke="#0a0aa0" stroke-width="1.3"/>
<polygon points="237.93,423.45 232.38,418 238.78,415.71" fill="#0a0aa0"/>
<line x1="238.63" y1="405.55" x2="242.66" y2="416.86" stroke="#0a0aa0" stroke-width="1.3"/>
<polygon points="245.01,423.45 239.46,418 245.86,415.71" fill="#0a0aa0"/>
<line x1="245.71" y1="405.55" x2="249.74" y2="416.86" stroke="#0a0aa0" stroke-width="1.3"/>
<polygon points="252.09,423.45 246.54,418 252.94,415.71" fill="#0a0aa0"/>
<line x1="134.06" y1="411.09" x2="137.5" y2="416" stroke="#0a0aa0" stroke-width="1.3"/>
<polygon points="140.94,420.91 134.88,417.84 140.12,414.16" fill="#0a0aa0"/>
<rect x="135.5" y="398.5" width="110" height="31" fill="none" stroke="#000" stroke-width="1"/>
<rect x="135.5" y="436.5" width="110" height="78" fill="#87cefa"/>
<rect x="170" y="436.5" width="61.6" height="78" fill="#0040a0" fill-opacity="0.1"/>
<line x1="142.5" y1="436.5" x2="142.5" y2="514.5" stroke="#000" stroke-width="1" stroke-dasharray="2,2"/>
<line x1="163.5" y1="436.5" x2="163.5" y2="514.5" stroke="#000" stroke-width="1" stroke-dasharray="2,2"/>
<line x1="184.5" y1="436.5" x2="184.5" y2="514.5" stroke="#000" stroke-width="1" stroke-dasharray="2,2"/>
<line x1="205.5" y1="436.5" x2="205.5" y2="514.5" stroke="#000" stroke-width="1" stroke-dasharray="2,2"/>
<line x1="226.5" y1="436.5" x2="226.5" y2="514.5" stroke="#000" stroke-width="1" stroke-dasharray="2,2"/>
<line x1="135.5" y1="456.5" x2="245.5" y2="456.5" stroke="#000" stroke-width="1" stroke-dasharray="2,2"/>
<line x1="135.5" y1="475.5" x2="245.5" y2="475.5" stroke="#000" stroke-width="1" stroke-dasharray="2,2"/>
<line x1="135.5" y1="495.5" x2="245.5" y2="495.5" stroke="#000" stroke-width="1" stroke-dasharray="2,2"/>
<clipPath id="cblclip"><rect x="135.5" y="436.5" width="110" height="78"/></clipPath>
<g clip-path="url(#cblclip)">
<polyline points="135.56,470.78 143.17,470.78 149.03,466.39 159.27,464.2 178.3,463.9 184.15,466.39 191.47,469.32 200.25,470.78 209.03,472.25 217.81,474.73 232.44,474.44 238.3,472.25 245.62,469.47" fill="none" stroke="#ff9f00" stroke-width="2.2" stroke-linejoin="round"/>
<circle cx="143.46" cy="500.05" r="2.6" fill="#5a5a5a"/>
<circle cx="184.15" cy="500.05" r="2.6" fill="#5a5a5a"/>
<circle cx="232.44" cy="500.05" r="2.6" fill="#969696"/>
<circle cx="184.15" cy="503.71" r="2.6" fill="#969696"/>
<circle cx="218.54" cy="500.05" r="2.6" fill="#d2d2d2"/>
<circle cx="225.13" cy="500.05" r="2.6" fill="#d2d2d2"/>
<circle cx="239.03" cy="500.05" r="2.6" fill="#d2d2d2"/>
<circle cx="137.32" cy="505.17" r="2.6" fill="#d2d2d2"/>
<circle cx="150.49" cy="500.05" r="2.6" fill="#ffffff"/>
<circle cx="164.39" cy="499.32" r="2.6" fill="#ffffff"/>
<circle cx="191.47" cy="500.05" r="2.6" fill="#ffffff"/>
<circle cx="143.46" cy="505.17" r="2.6" fill="#ffffff"/>
<circle cx="137.32" cy="508.1" r="2.6" fill="#ffffff"/>
<circle cx="184.15" cy="509.56" r="2.6" fill="#ffffff"/>
<circle cx="218.54" cy="509.56" r="2.6" fill="#ffffff"/>
<circle cx="225.13" cy="509.56" r="2.6" fill="#ffffff"/>
<circle cx="232.44" cy="509.56" r="2.6" fill="#ffffff"/>
<circle cx="239.03" cy="509.56" r="2.6" fill="#ffffff"/>
<circle cx="244.88" cy="500.05" r="2.6" fill="#ffffff"/>
<circle cx="170.25" cy="488.34" r="2.6" fill="#969696"/>
<circle cx="177.12" cy="489.08" r="2.6" fill="#969696"/>
<circle cx="198.05" cy="484.69" r="2.6" fill="#969696"/>
<circle cx="211.22" cy="485.42" r="2.6" fill="#969696"/>
<circle cx="239.03" cy="493.47" r="2.6" fill="#969696"/>
<circle cx="170.25" cy="489.81" r="2.6" fill="#d2d2d2"/>
<circle cx="191.47" cy="491.27" r="2.6" fill="#d2d2d2"/>
<circle cx="211.22" cy="489.81" r="2.6" fill="#d2d2d2"/>
<circle cx="170.25" cy="492" r="2.6" fill="#ffffff"/>
<circle cx="177.12" cy="492" r="2.6" fill="#ffffff"/>
<circle cx="198.05" cy="492" r="2.6" fill="#ffffff"/>
<circle cx="204.64" cy="492" r="2.6" fill="#ffffff"/>
<circle cx="211.22" cy="492" r="2.6" fill="#ffffff"/>
<circle cx="143.46" cy="481.03" r="2.6" fill="#5a5a5a"/>
<circle cx="150.49" cy="492" r="2.6" fill="#5a5a5a"/>
<circle cx="157.07" cy="492" r="2.6" fill="#5a5a5a"/>
<circle cx="164.39" cy="492" r="2.6" fill="#5a5a5a"/>
<circle cx="191.47" cy="489.08" r="2.6" fill="#5a5a5a"/>
<circle cx="198.05" cy="468.59" r="2.6" fill="#5a5a5a"/>
<circle cx="211.22" cy="481.47" r="2.6" fill="#5a5a5a"/>
<circle cx="218.54" cy="489.08" r="2.6" fill="#5a5a5a"/>
<circle cx="225.13" cy="492" r="2.6" fill="#5a5a5a"/>
<circle cx="232.44" cy="493.47" r="2.6" fill="#5a5a5a"/>
<circle cx="191.17" cy="456.15" r="2.6" fill="#000000"/>
<circle cx="198.05" cy="464.2" r="2.6" fill="#000000"/>
<circle cx="204.64" cy="467.42" r="2.6" fill="#000000"/>
<circle cx="211.22" cy="469.76" r="2.6" fill="#000000"/>
<circle cx="218.54" cy="481.47" r="2.6" fill="#000000"/>
<circle cx="225.13" cy="485.42" r="2.6" fill="#000000"/>
<circle cx="232.44" cy="489.08" r="2.6" fill="#000000"/>
<circle cx="239.03" cy="481.47" r="2.6" fill="#000000"/>
<circle cx="244.88" cy="475.9" r="2.6" fill="#000000"/>
<circle cx="184.15" cy="489.08" r="2.6" fill="#000000"/>
<circle cx="137.32" cy="475.17" r="2.6" fill="#b01e1e"/>
<circle cx="143.46" cy="475.17" r="2.6" fill="#b01e1e"/>
<circle cx="150.49" cy="458.34" r="2.6" fill="#b01e1e"/>
<circle cx="157.07" cy="458.34" r="2.6" fill="#b01e1e"/>
<circle cx="164.39" cy="459.81" r="2.6" fill="#b01e1e"/>
<circle cx="170.25" cy="451.03" r="2.6" fill="#b01e1e"/>
<circle cx="177.12" cy="449.27" r="2.6" fill="#b01e1e"/>
<circle cx="184.15" cy="449.27" r="2.6" fill="#b01e1e"/>
<circle cx="191.17" cy="449.27" r="2.6" fill="#b01e1e"/>
<circle cx="198.05" cy="451.03" r="2.6" fill="#b01e1e"/>
<circle cx="204.64" cy="449.27" r="2.6" fill="#b01e1e"/>
<circle cx="211.22" cy="449.27" r="2.6" fill="#b01e1e"/>
<circle cx="218.54" cy="449.27" r="2.6" fill="#b01e1e"/>
<circle cx="225.13" cy="449.27" r="2.6" fill="#b01e1e"/>
<circle cx="232.44" cy="449.27" r="2.6" fill="#b01e1e"/>
<circle cx="239.03" cy="449.27" r="2.6" fill="#b01e1e"/>
<circle cx="244.88" cy="449.27" r="2.6" fill="#b01e1e"/>
</g>
<rect x="135.5" y="436.5" width="110" height="78" fill="none" stroke="#000" stroke-width="1"/>
<rect x="135.5" y="523.5" width="110" height="77" fill="#87cefa"/>
<rect x="170" y="523.5" width="61.6" height="77" fill="#0040a0" fill-opacity="0.1"/>
<polygon points="165.12,588.25 170.98,576.54 176.83,566.3 184.15,562.64 188.54,556.05 194.39,546.54 203.17,543.61 209.03,531.9 214.88,525.32 225.13,524.15 232.44,523.56 245.62,523.56 245.62,601.13 165.12,601.13" fill="#ffffff"/>
<polygon points="192.93,572.44 196.59,531.9 200.25,530.88 203.17,532.63 207.56,532.93 211.96,528.98 217.81,525.61 225.13,525.02 232.44,524.44 239.76,534.83 245.62,542.88 245.62,601.13 192.93,601.13" fill="#969696"/>
<polyline points="232.44,523.85 239.76,534.39 245.18,542.59" fill="none" stroke="#ffffff" stroke-width="1.2" stroke-linejoin="round"/>
<polygon points="135.56,573.61 143.17,563.37 150.49,577.27 159.27,582.39 165.12,586.78 178.3,592.64 184.15,568.49 191.47,569.22 194.39,575.08 204.64,595.56 211.96,572.15 217.81,545.81 225.86,534.83 232.44,539.95 241.22,561.9 245.62,566.3 245.62,601.13 135.56,601.13" fill="#5a5a5a"/>
<polygon points="135.56,597.76 149.03,591.17 154.88,594.1 164.39,601.13 135.56,601.13" fill="#2d2d2d"/>
<polyline points="135.85,588.98 143.17,594.83 151.95,599.96" fill="none" stroke="#cfcfcf" stroke-width="0.9" stroke-linejoin="round"/>
<polyline points="184.88,599.96 191.47,575.08 192.93,572.44" fill="none" stroke="#bdbdbd" stroke-width="0.9" stroke-linejoin="round"/>
<line x1="142.5" y1="523.5" x2="142.5" y2="600.5" stroke="#000" stroke-width="1" stroke-dasharray="2,2"/>
<line x1="163.5" y1="523.5" x2="163.5" y2="600.5" stroke="#000" stroke-width="1" stroke-dasharray="2,2"/>
<line x1="184.5" y1="523.5" x2="184.5" y2="600.5" stroke="#000" stroke-width="1" stroke-dasharray="2,2"/>
<line x1="205.5" y1="523.5" x2="205.5" y2="600.5" stroke="#000" stroke-width="1" stroke-dasharray="2,2"/>
<line x1="226.5" y1="523.5" x2="226.5" y2="600.5" stroke="#000" stroke-width="1" stroke-dasharray="2,2"/>
<line x1="135.5" y1="543.5" x2="245.5" y2="543.5" stroke="#000" stroke-width="1" stroke-dasharray="2,2"/>
<line x1="135.5" y1="562.5" x2="245.5" y2="562.5" stroke="#000" stroke-width="1" stroke-dasharray="2,2"/>
<line x1="135.5" y1="582.5" x2="245.5" y2="582.5" stroke="#000" stroke-width="1" stroke-dasharray="2,2"/>
<rect x="216.94" y="589.71" width="3.2" height="10.79" fill="#ffb400"/>
<rect x="223.82" y="589.71" width="3.2" height="10.79" fill="#ffb400"/>
<rect x="230.84" y="589.71" width="3.2" height="10.79" fill="#ffb400"/>
<rect x="237.87" y="589.71" width="3.2" height="10.79" fill="#ffb400"/>
<rect x="135.5" y="523.5" width="110" height="77" fill="none" stroke="#000" stroke-width="1"/>
<text x="6" y="18.6" font-size="10.6" fill="#000" textLength="58.9" lengthAdjust="spacingAndGlyphs">Czas lokalny</text>
<text x="6" y="30.1" font-size="10.6" fill="#000" textLength="53.8" lengthAdjust="spacingAndGlyphs">(CET/CEST)</text>
<text x="6" y="46.5" font-size="10.6" fill="#b22222" textLength="93" lengthAdjust="spacingAndGlyphs">Temperatura gruntu</text>
<text x="27.3" y="56.2" font-size="10.6" fill="#b22222" textLength="38.9" lengthAdjust="spacingAndGlyphs">max/min</text>
<text x="5.1" y="68.5" font-size="10.6" fill="#000" textLength="62.3" lengthAdjust="spacingAndGlyphs">Temperatura:</text>
<text x="12.8" y="81" font-size="10.6" fill="#ff0000" textLength="76.8" lengthAdjust="spacingAndGlyphs">punkt środkowy</text>
<text x="27.3" y="90.7" font-size="10.6" fill="#ffcfc0" textLength="38.9" lengthAdjust="spacingAndGlyphs">max/min</text>
<text x="9.9" y="102.1" font-size="10.6" fill="#0000ff" textLength="57.1" lengthAdjust="spacingAndGlyphs">odczuwana</text>
<text x="27.3" y="112" font-size="10.6" fill="#a8dcff" textLength="38.9" lengthAdjust="spacingAndGlyphs">max/min</text>
<text x="6" y="124" font-size="10.6" fill="#6a5acd" textLength="87" lengthAdjust="spacingAndGlyphs">Temp. punktu rosy</text>
<text x="6" y="141.1" font-size="10.6" fill="#ff0000" textLength="93.9" lengthAdjust="spacingAndGlyphs">Opad powyżej skali</text>
<text x="6" y="154.7" font-size="10.6" fill="#e8501a" textLength="97.3" lengthAdjust="spacingAndGlyphs">Wilgotność względna</text>
<text x="6" y="169.4" font-size="10.6" fill="#000" textLength="84.5" lengthAdjust="spacingAndGlyphs">Wystąpienie burzy</text>
<text x="6" y="183.4" font-size="10.6" fill="#00aa00" textLength="63.1" lengthAdjust="spacingAndGlyphs">Deszcz: max</text>
<text x="48.7" y="194.1" font-size="10.6" fill="#00aa00" textLength="29.8" lengthAdjust="spacingAndGlyphs">średni</text>
<text x="6" y="205.6" font-size="10.6" fill="#1e32d2" textLength="29.9" lengthAdjust="spacingAndGlyphs">Śnieg:</text>
<text x="48.7" y="205.6" font-size="10.6" fill="#1e32d2" textLength="19.6" lengthAdjust="spacingAndGlyphs">max</text>
<text x="48.7" y="216.3" font-size="10.6" fill="#1e32d2" textLength="29.8" lengthAdjust="spacingAndGlyphs">średni</text>
<text x="5.1" y="228.3" font-size="10.6" fill="#ff0000" textLength="88.8" lengthAdjust="spacingAndGlyphs">Wystąpienie opadu</text>
<text x="6" y="240.2" font-size="10.6" fill="#ff0000" textLength="70.8" lengthAdjust="spacingAndGlyphs">konwekcyjnego</text>
<text x="5.1" y="267.3" font-size="10.6" fill="#000" textLength="41.9" lengthAdjust="spacingAndGlyphs">Ciśnienie</text>
<text x="5.1" y="280.5" font-size="10.6" fill="#000" textLength="65.8" lengthAdjust="spacingAndGlyphs">zredukowane</text>
<text x="5.1" y="292.9" font-size="10.6" fill="#000" textLength="87.1" lengthAdjust="spacingAndGlyphs">do poziomu morza</text>
<text x="5.1" y="322.3" font-size="10.6" fill="#000" textLength="65.8" lengthAdjust="spacingAndGlyphs">Wiatr na 10m:</text>
<text x="9.4" y="338.5" font-size="10.6" fill="#ff0000" textLength="97.5" lengthAdjust="spacingAndGlyphs">poryw powyżej skali</text>
<text x="9.4" y="352.2" font-size="10.6" fill="#ff0000" textLength="94.7" lengthAdjust="spacingAndGlyphs">max porywy wiatru</text>
<text x="9.4" y="371.9" font-size="10.6" fill="#1414a0" textLength="79.4" lengthAdjust="spacingAndGlyphs">prędkość wiatru</text>
<text x="10.2" y="385.1" font-size="10.6" fill="#1414a0" textLength="88" lengthAdjust="spacingAndGlyphs">w środku obszaru</text>
<text x="9.4" y="412.9" font-size="10.6" fill="#1414a0" textLength="74.3" lengthAdjust="spacingAndGlyphs">kierunek wiatru</text>
<text x="6" y="433.4" font-size="10.6" fill="#b22222" textLength="90.5" lengthAdjust="spacingAndGlyphs">Wierzchołek chmur</text>
<text x="6" y="447.9" font-size="10.6" fill="#000" textLength="84.5" lengthAdjust="spacingAndGlyphs">Podstawa chmur*</text>
<text x="6" y="459" font-size="10.6" fill="#000" textLength="47" lengthAdjust="spacingAndGlyphs">o pokryciu</text>
<text x="10.2" y="471.9" font-size="10.6" fill="#000" textLength="43.6" lengthAdjust="spacingAndGlyphs">> 7.9 okt.</text>
<text x="10.2" y="483" font-size="10.6" fill="#464646" textLength="43.6" lengthAdjust="spacingAndGlyphs">> 6.5 okt.</text>
<text x="10.2" y="493.6" font-size="10.6" fill="#969696" textLength="43.6" lengthAdjust="spacingAndGlyphs">> 4.5 okt.</text>
<text x="10.2" y="503.5" font-size="10.6" fill="#d7d7d7" textLength="43.6" lengthAdjust="spacingAndGlyphs">> 2.5 okt.</text>
<rect x="10.6" y="505.4" width="44.4" height="11.1" fill="#87cefa"/>
<text x="10.6" y="514.9" font-size="10.6" fill="#ffffff" textLength="43.6" lengthAdjust="spacingAndGlyphs">> 0.1 okt.</text>
<text x="6" y="530" font-size="10.6" fill="#ff7800" textLength="57.2" lengthAdjust="spacingAndGlyphs">Widzialność</text>
<text x="6" y="547" font-size="10.6" fill="#000" textLength="38" lengthAdjust="spacingAndGlyphs">Chmury:</text>
<rect x="10.2" y="551.5" width="40.7" height="11.1" fill="#87cefa"/>
<text x="10.4" y="560.7" font-size="10.6" fill="#ffffff" textLength="40" lengthAdjust="spacingAndGlyphs">wysokie</text>
<text x="9.9" y="572.9" font-size="10.6" fill="#a0a0a0" textLength="35.3" lengthAdjust="spacingAndGlyphs">średnie</text>
<text x="9.9" y="584.8" font-size="10.6" fill="#505050" textLength="26.3" lengthAdjust="spacingAndGlyphs">niskie</text>
<text x="9.9" y="596.8" font-size="10.6" fill="#323232" textLength="61" lengthAdjust="spacingAndGlyphs">bardzo niskie</text>
<text x="6" y="608.7" font-size="10.6" fill="#ffb400" textLength="20" lengthAdjust="spacingAndGlyphs">Mgła</text>
<text x="6" y="625.8" font-size="12" fill="#000" textLength="130.6" lengthAdjust="spacingAndGlyphs">Czas uniwersalny (UTC)</text>
<text x="5.1" y="651.4" font-size="9" fill="#000" textLength="102.5" lengthAdjust="spacingAndGlyphs" font-weight="bold">* powyżej poziomu morza</text>
<polyline points="68.3,16.5 133.2,16.5 155.6,44.8" fill="none" stroke="#000" stroke-width="1" stroke-linejoin="round" stroke-linejoin="miter"/>
<polyline points="102.4,44.5 119.5,44.5 149.6,82.3" fill="none" stroke="#b22222" stroke-width="1" stroke-linejoin="round" stroke-linejoin="miter"/>
<polyline points="92.2,76.5 114.4,76.5" fill="none" stroke="#ff0000" stroke-width="1" stroke-linejoin="round" stroke-linejoin="miter"/>
<polyline points="130,75.8 153.6,97.5" fill="none" stroke="#ff0000" stroke-width="1" stroke-linejoin="round" stroke-linejoin="miter"/>
<polyline points="70,99.5 131.5,99.5 137,103" fill="none" stroke="#0000ff" stroke-width="1" stroke-linejoin="round" stroke-linejoin="miter"/>
<polyline points="95.6,119.5 131.5,119.5 140,112.5" fill="none" stroke="#6a5acd" stroke-width="1" stroke-linejoin="round" stroke-linejoin="miter"/>
<polyline points="103.3,137.5 141.7,137.5 146.1,146.5" fill="none" stroke="#ff0000" stroke-width="1" stroke-linejoin="round" stroke-linejoin="miter"/>
<polyline points="106,151.5 112,151.5" fill="none" stroke="#e8501a" stroke-width="1" stroke-linejoin="round" stroke-linejoin="miter"/>
<polyline points="130.7,151.5 146.1,160.7" fill="none" stroke="#e8501a" stroke-width="1" stroke-linejoin="round" stroke-linejoin="miter"/>
<polyline points="93.9,165.5 112.5,165.5" fill="none" stroke="#000" stroke-width="1" stroke-linejoin="round" stroke-linejoin="miter"/>
<polyline points="129.2,165.8 136.7,172" fill="none" stroke="#000" stroke-width="1" stroke-linejoin="round" stroke-linejoin="miter"/>
<polyline points="71.7,179.5 139,179.5" fill="none" stroke="#00aa00" stroke-width="1" stroke-linejoin="round" stroke-linejoin="miter"/>
<polyline points="80,190.5 135.6,190.5" fill="none" stroke="#00aa00" stroke-width="1" stroke-linejoin="round" stroke-linejoin="miter"/>
<polyline points="70,202.5 111.7,202.5" fill="none" stroke="#1e32d2" stroke-width="1" stroke-linejoin="round" stroke-linejoin="miter"/>
<polyline points="129.6,201.3 160.4,171.7" fill="none" stroke="#1e32d2" stroke-width="1" stroke-linejoin="round" stroke-linejoin="miter"/>
<polyline points="80.5,213.5 131.5,213.5 166,178" fill="none" stroke="#1e32d2" stroke-width="1" stroke-linejoin="round" stroke-linejoin="miter"/>
<polyline points="97.3,226.5 143.9,226.5 147.2,219.6" fill="none" stroke="#ff0000" stroke-width="1" stroke-linejoin="round" stroke-linejoin="miter"/>
<polyline points="51.2,264.5 131.5,264.5 136.6,260.8" fill="none" stroke="#000" stroke-width="1" stroke-linejoin="round" stroke-linejoin="miter"/>
<polyline points="112,334.5 117,334.5" fill="none" stroke="#ff0000" stroke-width="1" stroke-linejoin="round" stroke-linejoin="miter"/>
<polyline points="130,335 139.2,316.7" fill="none" stroke="#ff0000" stroke-width="1" stroke-linejoin="round" stroke-linejoin="miter"/>
<circle cx="139.5" cy="317" r="1.6" fill="#ff0000"/>
<polyline points="106.7,348.5 130.8,348.5 148.7,340" fill="none" stroke="#ff0000" stroke-width="1" stroke-linejoin="round" stroke-linejoin="miter"/>
<polyline points="141,340.5 149,340.5" fill="none" stroke="#ff0000" stroke-width="1" stroke-linejoin="round" stroke-linejoin="miter"/>
<polyline points="92.2,367.5 135.6,367.5" fill="none" stroke="#1414a0" stroke-width="1" stroke-linejoin="round" stroke-linejoin="miter"/>
<polyline points="86.2,410.5 137,410.5" fill="none" stroke="#1414a0" stroke-width="1" stroke-linejoin="round" stroke-linejoin="miter"/>
<polyline points="100,430.5 135,430.5 184.5,449.8" fill="none" stroke="#b22222" stroke-width="1" stroke-linejoin="round" stroke-linejoin="miter"/>
<polyline points="57.2,468.5 132.9,467.8 191.5,456.3" fill="none" stroke="#000" stroke-width="1" stroke-linejoin="round" stroke-linejoin="miter"/>
<polyline points="57.2,480.5 140,480.5" fill="none" stroke="#464646" stroke-width="1" stroke-linejoin="round" stroke-linejoin="miter"/>
<polyline points="57.2,490.5 131.7,490.5 140,498.3" fill="none" stroke="#969696" stroke-width="1" stroke-linejoin="round" stroke-linejoin="miter"/>
<polyline points="57.2,500.5 132.5,500.5 137,504" fill="none" stroke="#d7d7d7" stroke-width="1" stroke-linejoin="round" stroke-linejoin="miter"/>
<polyline points="55,509.5 140,509.5" fill="none" stroke="#87cefa" stroke-width="1" stroke-linejoin="round" stroke-linejoin="miter"/>
<polyline points="55,511.5 140,511.5" fill="none" stroke="#87cefa" stroke-width="1" stroke-linejoin="round" stroke-linejoin="miter"/>
<polyline points="67.4,527.5 129.2,527.5 173.5,465.1" fill="none" stroke="#ff9f00" stroke-width="1" stroke-linejoin="round" stroke-linejoin="miter"/>
<polyline points="51,556.5 140,556.5" fill="none" stroke="#87cefa" stroke-width="1" stroke-linejoin="round" stroke-linejoin="miter"/>
<polyline points="51,558.5 140,558.5" fill="none" stroke="#87cefa" stroke-width="1" stroke-linejoin="round" stroke-linejoin="miter"/>
<polyline points="49.5,571.5 140,571.5" fill="none" stroke="#a0a0a0" stroke-width="1" stroke-linejoin="round" stroke-linejoin="miter"/>
<polyline points="40.1,582.5 122.5,582.5" fill="none" stroke="#505050" stroke-width="1" stroke-linejoin="round" stroke-linejoin="miter"/>
<polyline points="131,582.5 140,582.5" fill="none" stroke="#505050" stroke-width="1" stroke-linejoin="round" stroke-linejoin="miter"/>
<polyline points="74.3,594.5 140,594.5" fill="none" stroke="#323232" stroke-width="1" stroke-linejoin="round" stroke-linejoin="miter"/>
<polyline points="29.9,605.5 217.4,605.5 219,598" fill="none" stroke="#ffb400" stroke-width="1" stroke-linejoin="round" stroke-linejoin="miter"/>
<polyline points="138.4,623.5 148.3,623.5 157,608.3" fill="none" stroke="#000" stroke-width="1" stroke-linejoin="round" stroke-linejoin="miter"/>
<text x="128.6" y="62.5" font-size="10.8" fill="#000" text-anchor="end">30</text>
<text x="128.6" y="80.8" font-size="10.8" fill="#000" text-anchor="end">20</text>
<text x="128.6" y="97.5" font-size="10.8" fill="#000" text-anchor="end">10</text>
<text x="128.6" y="114.2" font-size="10.8" fill="#000" text-anchor="end">0</text>
<text x="128.6" y="132.5" font-size="10.8" fill="#000" text-anchor="end">-10</text>
<text x="128.6" y="154.2" font-size="10.8" fill="#000" text-anchor="end">2.0</text>
<text x="128.6" y="171.7" font-size="10.8" fill="#000" text-anchor="end">1.5</text>
<text x="128.6" y="188.7" font-size="10.8" fill="#000" text-anchor="end">1.0</text>
<text x="128.6" y="205.8" font-size="10.8" fill="#000" text-anchor="end">0.5</text>
<text x="128.6" y="222.8" font-size="10.8" fill="#000" text-anchor="end">0.0</text>
<text x="128.6" y="234.2" font-size="10.8" fill="#000" text-anchor="end">1018</text>
<text x="128.6" y="257.5" font-size="10.8" fill="#000" text-anchor="end">1016</text>
<text x="128.6" y="281.3" font-size="10.8" fill="#000" text-anchor="end">1014</text>
<text x="128.6" y="304.7" font-size="10.8" fill="#000" text-anchor="end">1012</text>
<text x="128.6" y="318.7" font-size="10.8" fill="#000" text-anchor="end">20</text>
<text x="128.6" y="337.5" font-size="10.8" fill="#000" text-anchor="end">15</text>
<text x="128.6" y="357.5" font-size="10.8" fill="#000" text-anchor="end">10</text>
<text x="128.6" y="375.8" font-size="10.8" fill="#000" text-anchor="end">5</text>
<text x="128.6" y="395" font-size="10.8" fill="#000" text-anchor="end">0</text>
<text x="128.6" y="439.2" font-size="10.8" fill="#000" text-anchor="end">15.0</text>
<text x="128.6" y="459.2" font-size="10.8" fill="#000" text-anchor="end">7.0</text>
<text x="128.6" y="478.3" font-size="10.8" fill="#000" text-anchor="end">2.0</text>
<text x="128.6" y="498.3" font-size="10.8" fill="#000" text-anchor="end">0.5</text>
<text x="128.6" y="517.5" font-size="10.8" fill="#000" text-anchor="end">0.0</text>
<text x="128.6" y="525.8" font-size="10.8" fill="#000" text-anchor="end">8</text>
<text x="128.6" y="545.8" font-size="10.8" fill="#000" text-anchor="end">6</text>
<text x="128.6" y="565.8" font-size="10.8" fill="#000" text-anchor="end">4</text>
<text x="128.6" y="585.3" font-size="10.8" fill="#000" text-anchor="end">2</text>
<text x="128.6" y="604.2" font-size="10.8" fill="#000" text-anchor="end">0</text>
<text x="266.3" y="62.5" font-size="10.8" fill="#000" text-anchor="end">30</text>
<text x="266.3" y="80.8" font-size="10.8" fill="#000" text-anchor="end">20</text>
<text x="266.3" y="97.5" font-size="10.8" fill="#000" text-anchor="end">10</text>
<text x="266.3" y="114.2" font-size="10.8" fill="#000" text-anchor="end">0</text>
<text x="266.3" y="132" font-size="10.8" fill="#000" text-anchor="end">-10</text>
<text x="253.3" y="153.3" font-size="10.8" fill="#e8501a">96</text>
<text x="253.3" y="171" font-size="10.8" fill="#e8501a">84</text>
<text x="253.3" y="188" font-size="10.8" fill="#e8501a">73</text>
<text x="253.3" y="205.3" font-size="10.8" fill="#e8501a">61</text>
<text x="253.3" y="222.5" font-size="10.8" fill="#e8501a">50</text>
<text x="251.4" y="234.2" font-size="10.8" fill="#000">1018</text>
<text x="251.4" y="257.5" font-size="10.8" fill="#000">1016</text>
<text x="251.4" y="281.3" font-size="10.8" fill="#000">1014</text>
<text x="251.4" y="304.7" font-size="10.8" fill="#000">1012</text>
<text x="251.4" y="318.7" font-size="10.8" fill="#000">72</text>
<text x="251.4" y="337.5" font-size="10.8" fill="#000">54</text>
<text x="251.4" y="357.5" font-size="10.8" fill="#000">36</text>
<text x="251.4" y="375.8" font-size="10.8" fill="#000">18</text>
<text x="254.2" y="395" font-size="10.8" fill="#000">0</text>
<text x="250.8" y="439.2" font-size="10.8" fill="#ff8000">100</text>
<text x="250.8" y="459.2" font-size="10.8" fill="#ff8000">20</text>
<text x="250.8" y="478.3" font-size="10.8" fill="#ff8000">5</text>
<text x="250.8" y="498.3" font-size="10.8" fill="#ff8000">1</text>
<text x="250.8" y="516.7" font-size="10.8" fill="#ff8000">0</text>
<text x="250.8" y="525.8" font-size="10.8" fill="#ff8000">1</text>
<text x="250.8" y="545.8" font-size="10.8" fill="#ff8000">0.75</text>
<text x="250.8" y="565.8" font-size="10.8" fill="#ff8000">0.5</text>
<text x="250.8" y="585.3" font-size="10.8" fill="#ff8000">0.25</text>
<text x="250.8" y="604.2" font-size="10.8" fill="#ff8000">0</text>
<text x="163.8" y="51.2" font-size="12" fill="#000" text-anchor="middle">20</text>
<text x="203.9" y="51.2" font-size="12" fill="#000" text-anchor="middle">02</text>
<text x="244.4" y="51.2" font-size="12" fill="#000" text-anchor="middle">08</text>
<text x="163.7" y="614.2" font-size="12" fill="#000" text-anchor="middle">18</text>
<text x="204.3" y="614.2" font-size="12" fill="#000" text-anchor="middle">00</text>
<text x="244.9" y="614.2" font-size="12" fill="#000" text-anchor="middle">06</text>
</svg></body></html>
